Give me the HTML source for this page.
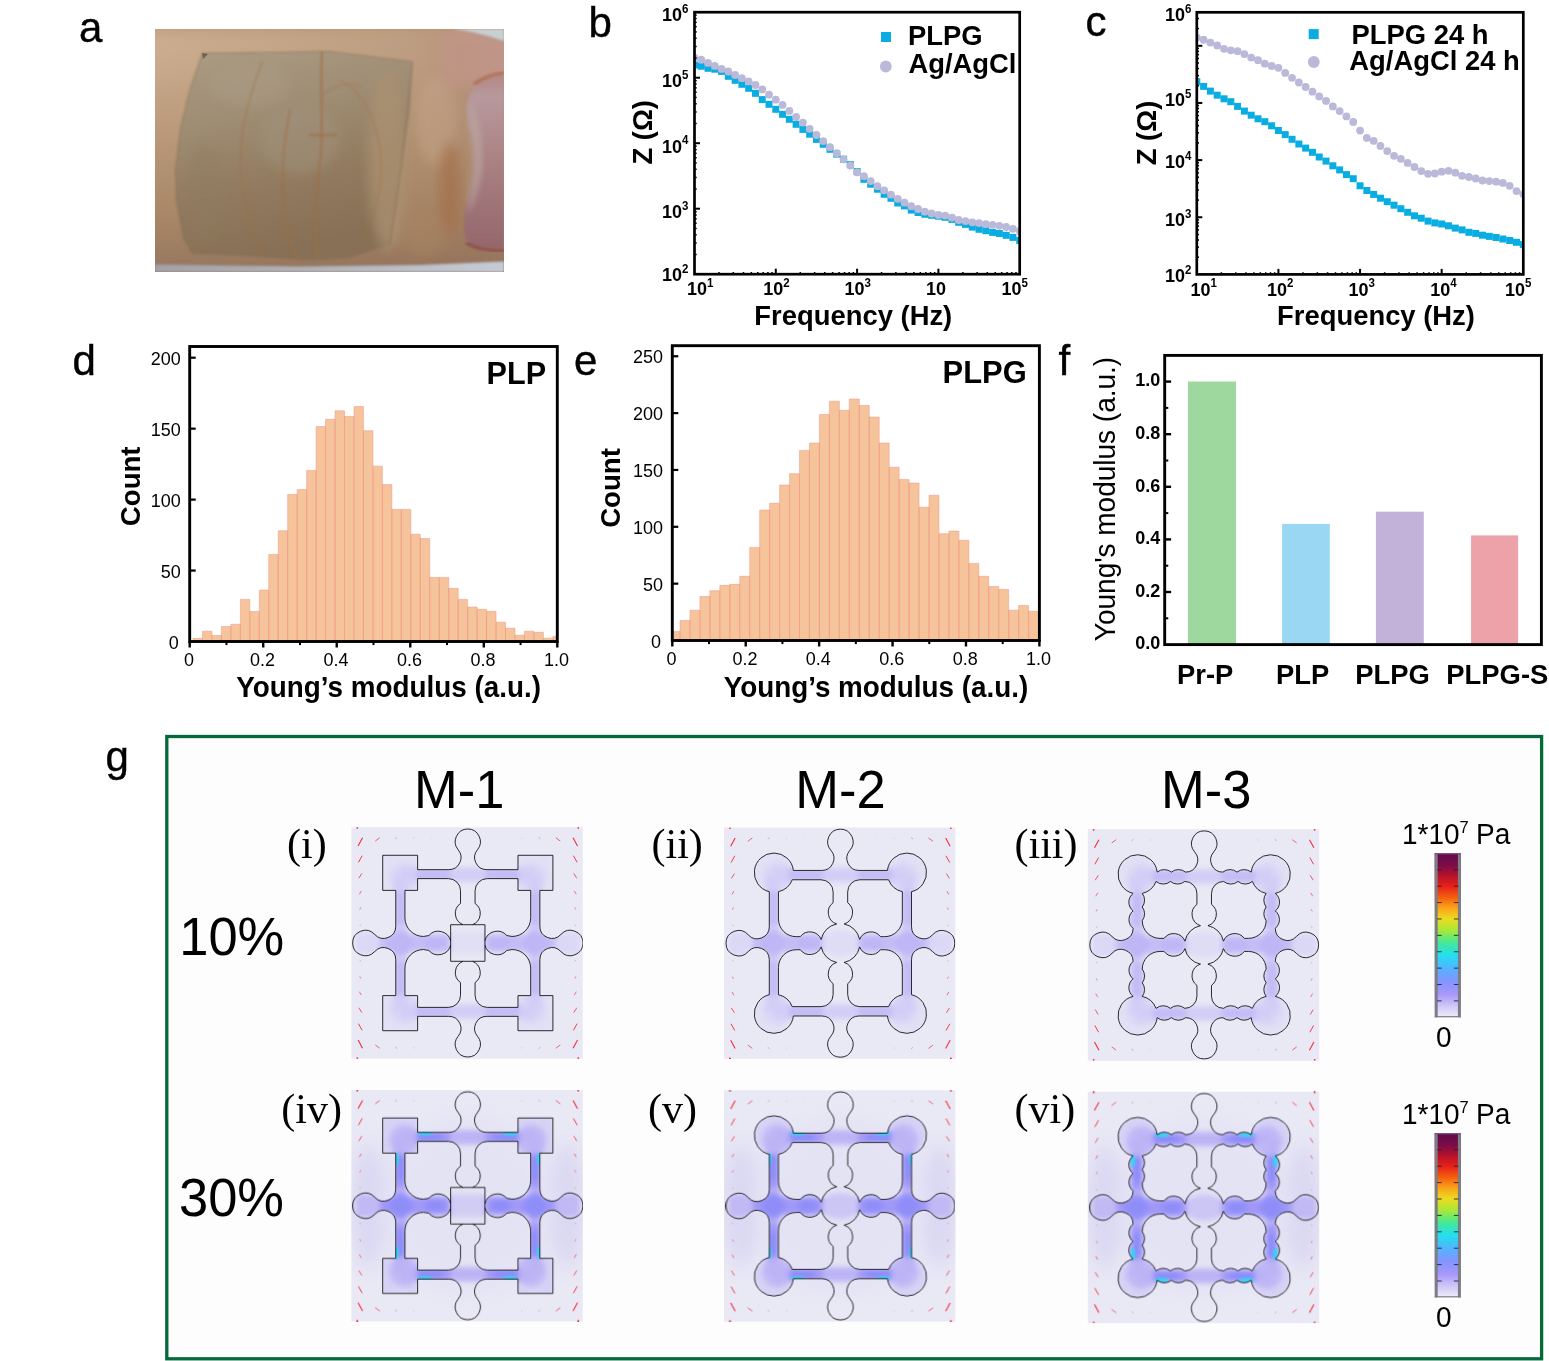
<!DOCTYPE html>
<html lang="en"><head><meta charset="utf-8"><title>Figure</title>
<style>
html,body{margin:0;padding:0;background:#fff;}
body{width:1549px;height:1361px;overflow:hidden;}
svg{display:block;font-family:"Liberation Sans",sans-serif;}
</style></head><body>
<svg width="1549" height="1361" viewBox="0 0 1549 1361">
<rect width="1549" height="1361" fill="#fff"/>
<text transform="translate(79.00,42.20)" font-size="42" stroke="#000" stroke-width="0.4">a</text>
<defs>
<clipPath id="pclip"><rect x="155" y="29" width="349" height="243"/></clipPath>
<linearGradient id="skin" x1="0" y1="0" x2="1" y2="0">
<stop offset="0" stop-color="#ccad90"/><stop offset="0.15" stop-color="#c9aa8c"/><stop offset="0.5" stop-color="#c2a285"/>
<stop offset="0.72" stop-color="#bd9d82"/><stop offset="0.84" stop-color="#b9967e"/><stop offset="1" stop-color="#bd9588"/>
</linearGradient>
<linearGradient id="skinv" x1="0" y1="0" x2="0" y2="1">
<stop offset="0" stop-color="#b8926f" stop-opacity="0.4"/><stop offset="0.06" stop-color="#c4a283" stop-opacity="0.05"/>
<stop offset="0.25" stop-color="#a88664" stop-opacity="0.25"/><stop offset="0.5" stop-color="#a48260" stop-opacity="0.55"/><stop offset="0.8" stop-color="#987656" stop-opacity="0.72"/><stop offset="1" stop-color="#8c6c56" stop-opacity="0.85"/>
</linearGradient>
<linearGradient id="patchg" x1="0" y1="0" x2="0.25" y2="1">
<stop offset="0" stop-color="#ab9c84"/><stop offset="0.35" stop-color="#9f8d74"/><stop offset="0.7" stop-color="#917a5e"/><stop offset="1" stop-color="#877055"/>
</linearGradient>
<linearGradient id="nailg" x1="0" y1="0" x2="0" y2="1">
<stop offset="0" stop-color="#b48886"/><stop offset="0.12" stop-color="#b8999d"/><stop offset="0.45" stop-color="#ab8486"/><stop offset="0.8" stop-color="#9c7074"/><stop offset="1" stop-color="#94686b"/>
</linearGradient>
<filter id="b1" x="-10%" y="-10%" width="120%" height="120%"><feGaussianBlur stdDeviation="1.2"/></filter>
<filter id="b3" x="-20%" y="-20%" width="140%" height="140%"><feGaussianBlur stdDeviation="3"/></filter>
<filter id="b6" x="-30%" y="-30%" width="160%" height="160%"><feGaussianBlur stdDeviation="6"/></filter>
</defs>
<g clip-path="url(#pclip)">
<rect x="155" y="29" width="349" height="243" fill="url(#skin)"/>
<rect x="155" y="29" width="349" height="243" fill="url(#skinv)"/>
<ellipse cx="436" cy="120" rx="20" ry="45" fill="#c8a88c" opacity="0.45" filter="url(#b6)"/>
<ellipse cx="450" cy="190" rx="10" ry="48" fill="#a4714b" opacity="0.75" filter="url(#b6)"/>
<ellipse cx="425" cy="235" rx="22" ry="22" fill="#ab8664" opacity="0.4" filter="url(#b6)"/>
<path d="M202.3 53.4 L270 52.5 L330 51.5 L412.6 61.8 L410 110 L401.8 163.3 L395 215 L389.9 244.6 L350 258 L312.2 260.5 L240.6 255.8 L192 254 L184 240 L176.5 200 L175.5 170 L180.8 127.5 L190 90 Z" fill="url(#patchg)" filter="url(#b1)"/>
<ellipse cx="300" cy="140" rx="40" ry="34" fill="#a39682" opacity="0.4" filter="url(#b6)"/>
<ellipse cx="205" cy="195" rx="20" ry="50" fill="#907b5f" opacity="0.35" filter="url(#b6)"/>
<ellipse cx="388" cy="160" rx="20" ry="90" fill="#ac9272" opacity="0.75" filter="url(#b6)"/>
<ellipse cx="250" cy="85" rx="40" ry="22" fill="#ae9f89" opacity="0.4" filter="url(#b6)"/>
<path d="M202.3 53.4 L270 52.5 L330 51.5 L412.6 61.8 M412.6 61.8 L401.8 163.3 L389.9 244.6 M202.3 53.4 L190 90 L180.8 127.5 L175.5 170 L176.5 200 L184 240" fill="none" stroke="#7a6850" stroke-width="1.1" opacity="0.5" filter="url(#b1)"/>
<path d="M202 53 l6 1 l-5 5z" fill="#5a4a3a" opacity="0.7"/>
<g fill="none" stroke="#a06e44" stroke-linecap="round" filter="url(#b1)"><path d="M322 52 C320 90 323 120 321 150 C319 185 312 215 318 258" stroke-width="2.2" opacity="0.7"/><path d="M310 135 L336 135" stroke-width="2.4" opacity="0.65"/><path d="M290 110 C282 150 280 190 286 225 C290 245 296 255 300 260" stroke-width="2.0" opacity="0.6"/><path d="M262 62 C248 100 236 140 242 185 C248 220 258 245 262 256" stroke-width="1.8" opacity="0.45"/><path d="M340 80 C370 95 385 140 380 185 C376 220 360 245 348 258" stroke-width="1.6" opacity="0.35"/><path d="M322 95 C335 85 350 82 362 86" stroke-width="1.4" opacity="0.35"/></g>
<path d="M440 29 L504 29 L504 80 C485 78 462 80 448 95 C440 70 440 45 440 29Z" fill="#c2958a" opacity="0.55" filter="url(#b6)"/>
<path d="M504 76 C488 77 476 82 470 95 C463 112 470 130 473 150 C476 172 470 190 465 210 C462 228 464 240 470 246 C480 250 495 250 504 250 Z" fill="url(#nailg)" filter="url(#b1)"/>
<path d="M470 100 C466 120 474 140 474 160 C474 180 468 200 468 215 C474 200 482 180 482 160 C482 135 478 115 470 100Z" fill="#bba89f" opacity="0.75" filter="url(#b3)"/>
<path d="M466 243 C478 250 494 251 504 251" fill="none" stroke="#8c4a40" stroke-width="3" opacity="0.8" filter="url(#b1)"/>
<path d="M474 84 C484 77 494 74 504 73" fill="none" stroke="#a8583f" stroke-width="3.5" opacity="0.55" filter="url(#b1)"/>
<path d="M452 29 L504 29 L504 41 C490 36 470 31 452 29Z" fill="#c6cfd2" filter="url(#b1)"/>
<linearGradient id="strip" x1="0" y1="0" x2="1" y2="0"><stop offset="0" stop-color="#a2a1a6"/><stop offset="0.5" stop-color="#b3b5bd"/><stop offset="1" stop-color="#c5cbd5"/></linearGradient>
<path d="M155 264.5 L300 266.5 L420 265 L504 261.5 L504 272 L155 272Z" fill="url(#strip)" filter="url(#b1)"/>
</g>
<text transform="translate(588.60,36.80)" font-size="42" stroke="#000" stroke-width="0.4">b</text>
<clipPath id="clb"><rect x="694.5" y="12.2" width="325.20000000000005" height="262.0"/></clipPath>
<g clip-path="url(#clb)"><g fill="#0aade1"><rect x="691.00" y="61.50" width="7" height="7"/><rect x="697.77" y="62.70" width="7" height="7"/><rect x="704.55" y="64.80" width="7" height="7"/><rect x="711.33" y="65.70" width="7" height="7"/><rect x="718.10" y="67.90" width="7" height="7"/><rect x="724.88" y="72.80" width="7" height="7"/><rect x="731.65" y="76.80" width="7" height="7"/><rect x="738.42" y="80.80" width="7" height="7"/><rect x="745.20" y="84.80" width="7" height="7"/><rect x="751.98" y="89.80" width="7" height="7"/><rect x="758.75" y="96.10" width="7" height="7"/><rect x="765.52" y="100.80" width="7" height="7"/><rect x="772.30" y="105.80" width="7" height="7"/><rect x="779.08" y="110.80" width="7" height="7"/><rect x="785.85" y="115.80" width="7" height="7"/><rect x="792.62" y="120.80" width="7" height="7"/><rect x="799.40" y="125.90" width="7" height="7"/><rect x="806.17" y="130.70" width="7" height="7"/><rect x="812.95" y="135.90" width="7" height="7"/><rect x="819.73" y="140.80" width="7" height="7"/><rect x="826.50" y="145.80" width="7" height="7"/><rect x="833.27" y="150.60" width="7" height="7"/><rect x="840.05" y="155.70" width="7" height="7"/><rect x="846.83" y="161.10" width="7" height="7"/><rect x="853.60" y="168.10" width="7" height="7"/><rect x="860.38" y="175.80" width="7" height="7"/><rect x="867.15" y="180.70" width="7" height="7"/><rect x="873.93" y="185.70" width="7" height="7"/><rect x="880.70" y="190.80" width="7" height="7"/><rect x="887.48" y="194.80" width="7" height="7"/><rect x="894.25" y="199.50" width="7" height="7"/><rect x="901.02" y="202.40" width="7" height="7"/><rect x="907.80" y="206.60" width="7" height="7"/><rect x="914.58" y="209.00" width="7" height="7"/><rect x="921.35" y="210.80" width="7" height="7"/><rect x="928.12" y="211.80" width="7" height="7"/><rect x="934.90" y="212.70" width="7" height="7"/><rect x="941.68" y="213.80" width="7" height="7"/><rect x="948.45" y="215.90" width="7" height="7"/><rect x="955.23" y="218.80" width="7" height="7"/><rect x="962.00" y="220.90" width="7" height="7"/><rect x="968.78" y="223.60" width="7" height="7"/><rect x="975.55" y="225.80" width="7" height="7"/><rect x="982.33" y="227.20" width="7" height="7"/><rect x="989.10" y="228.90" width="7" height="7"/><rect x="995.88" y="230.00" width="7" height="7"/><rect x="1002.65" y="231.80" width="7" height="7"/><rect x="1009.42" y="233.90" width="7" height="7"/><rect x="1016.20" y="236.90" width="7" height="7"/></g><g fill="#bab9da"><circle cx="694.50" cy="57.60" r="3.9"/><circle cx="701.27" cy="59.75" r="3.9"/><circle cx="708.05" cy="62.90" r="3.9"/><circle cx="714.83" cy="65.90" r="3.9"/><circle cx="721.60" cy="68.90" r="3.9"/><circle cx="728.38" cy="71.50" r="3.9"/><circle cx="735.15" cy="75.00" r="3.9"/><circle cx="741.92" cy="78.20" r="3.9"/><circle cx="748.70" cy="81.40" r="3.9"/><circle cx="755.48" cy="85.00" r="3.9"/><circle cx="762.25" cy="89.40" r="3.9"/><circle cx="769.02" cy="94.70" r="3.9"/><circle cx="775.80" cy="99.70" r="3.9"/><circle cx="782.58" cy="104.90" r="3.9"/><circle cx="789.35" cy="110.90" r="3.9"/><circle cx="796.12" cy="117.00" r="3.9"/><circle cx="802.90" cy="122.60" r="3.9"/><circle cx="809.67" cy="128.80" r="3.9"/><circle cx="816.45" cy="135.00" r="3.9"/><circle cx="823.23" cy="141.10" r="3.9"/><circle cx="830.00" cy="147.20" r="3.9"/><circle cx="836.77" cy="153.20" r="3.9"/><circle cx="843.55" cy="159.30" r="3.9"/><circle cx="850.33" cy="165.50" r="3.9"/><circle cx="857.10" cy="172.30" r="3.9"/><circle cx="863.88" cy="176.20" r="3.9"/><circle cx="870.65" cy="181.10" r="3.9"/><circle cx="877.43" cy="186.20" r="3.9"/><circle cx="884.20" cy="190.30" r="3.9"/><circle cx="890.98" cy="194.70" r="3.9"/><circle cx="897.75" cy="198.80" r="3.9"/><circle cx="904.52" cy="202.70" r="3.9"/><circle cx="911.30" cy="206.20" r="3.9"/><circle cx="918.08" cy="209.00" r="3.9"/><circle cx="924.85" cy="211.70" r="3.9"/><circle cx="931.62" cy="213.50" r="3.9"/><circle cx="938.40" cy="214.90" r="3.9"/><circle cx="945.18" cy="215.60" r="3.9"/><circle cx="951.95" cy="217.60" r="3.9"/><circle cx="958.73" cy="220.00" r="3.9"/><circle cx="965.50" cy="221.10" r="3.9"/><circle cx="972.28" cy="222.30" r="3.9"/><circle cx="979.05" cy="223.10" r="3.9"/><circle cx="985.83" cy="224.10" r="3.9"/><circle cx="992.60" cy="224.80" r="3.9"/><circle cx="999.38" cy="225.80" r="3.9"/><circle cx="1006.15" cy="227.00" r="3.9"/><circle cx="1012.92" cy="228.80" r="3.9"/><circle cx="1019.70" cy="231.10" r="3.9"/></g></g>
<line x1="718.97" y1="274.20" x2="718.97" y2="272.00" stroke="#000" stroke-width="1.5"/><line x1="733.29" y1="274.20" x2="733.29" y2="272.00" stroke="#000" stroke-width="1.5"/><line x1="743.45" y1="274.20" x2="743.45" y2="272.00" stroke="#000" stroke-width="1.5"/><line x1="751.33" y1="274.20" x2="751.33" y2="272.00" stroke="#000" stroke-width="1.5"/><line x1="757.76" y1="274.20" x2="757.76" y2="272.00" stroke="#000" stroke-width="1.5"/><line x1="763.21" y1="274.20" x2="763.21" y2="272.00" stroke="#000" stroke-width="1.5"/><line x1="767.92" y1="274.20" x2="767.92" y2="272.00" stroke="#000" stroke-width="1.5"/><line x1="772.08" y1="274.20" x2="772.08" y2="272.00" stroke="#000" stroke-width="1.5"/><line x1="775.80" y1="274.20" x2="775.80" y2="268.70" stroke="#000" stroke-width="2.0"/><line x1="800.27" y1="274.20" x2="800.27" y2="272.00" stroke="#000" stroke-width="1.5"/><line x1="814.59" y1="274.20" x2="814.59" y2="272.00" stroke="#000" stroke-width="1.5"/><line x1="824.75" y1="274.20" x2="824.75" y2="272.00" stroke="#000" stroke-width="1.5"/><line x1="832.63" y1="274.20" x2="832.63" y2="272.00" stroke="#000" stroke-width="1.5"/><line x1="839.06" y1="274.20" x2="839.06" y2="272.00" stroke="#000" stroke-width="1.5"/><line x1="844.51" y1="274.20" x2="844.51" y2="272.00" stroke="#000" stroke-width="1.5"/><line x1="849.22" y1="274.20" x2="849.22" y2="272.00" stroke="#000" stroke-width="1.5"/><line x1="853.38" y1="274.20" x2="853.38" y2="272.00" stroke="#000" stroke-width="1.5"/><line x1="857.10" y1="274.20" x2="857.10" y2="268.70" stroke="#000" stroke-width="2.0"/><line x1="881.57" y1="274.20" x2="881.57" y2="272.00" stroke="#000" stroke-width="1.5"/><line x1="895.89" y1="274.20" x2="895.89" y2="272.00" stroke="#000" stroke-width="1.5"/><line x1="906.05" y1="274.20" x2="906.05" y2="272.00" stroke="#000" stroke-width="1.5"/><line x1="913.93" y1="274.20" x2="913.93" y2="272.00" stroke="#000" stroke-width="1.5"/><line x1="920.36" y1="274.20" x2="920.36" y2="272.00" stroke="#000" stroke-width="1.5"/><line x1="925.81" y1="274.20" x2="925.81" y2="272.00" stroke="#000" stroke-width="1.5"/><line x1="930.52" y1="274.20" x2="930.52" y2="272.00" stroke="#000" stroke-width="1.5"/><line x1="934.68" y1="274.20" x2="934.68" y2="272.00" stroke="#000" stroke-width="1.5"/><line x1="938.40" y1="274.20" x2="938.40" y2="268.70" stroke="#000" stroke-width="2.0"/><line x1="962.87" y1="274.20" x2="962.87" y2="272.00" stroke="#000" stroke-width="1.5"/><line x1="977.19" y1="274.20" x2="977.19" y2="272.00" stroke="#000" stroke-width="1.5"/><line x1="987.35" y1="274.20" x2="987.35" y2="272.00" stroke="#000" stroke-width="1.5"/><line x1="995.23" y1="274.20" x2="995.23" y2="272.00" stroke="#000" stroke-width="1.5"/><line x1="1001.66" y1="274.20" x2="1001.66" y2="272.00" stroke="#000" stroke-width="1.5"/><line x1="1007.11" y1="274.20" x2="1007.11" y2="272.00" stroke="#000" stroke-width="1.5"/><line x1="1011.82" y1="274.20" x2="1011.82" y2="272.00" stroke="#000" stroke-width="1.5"/><line x1="1015.98" y1="274.20" x2="1015.98" y2="272.00" stroke="#000" stroke-width="1.5"/>
<line x1="694.50" y1="77.70" x2="700.00" y2="77.70" stroke="#000" stroke-width="2.0"/><line x1="694.50" y1="57.98" x2="696.70" y2="57.98" stroke="#000" stroke-width="1.5"/><line x1="694.50" y1="46.45" x2="696.70" y2="46.45" stroke="#000" stroke-width="1.5"/><line x1="694.50" y1="38.27" x2="696.70" y2="38.27" stroke="#000" stroke-width="1.5"/><line x1="694.50" y1="31.92" x2="696.70" y2="31.92" stroke="#000" stroke-width="1.5"/><line x1="694.50" y1="26.73" x2="696.70" y2="26.73" stroke="#000" stroke-width="1.5"/><line x1="694.50" y1="22.35" x2="696.70" y2="22.35" stroke="#000" stroke-width="1.5"/><line x1="694.50" y1="18.55" x2="696.70" y2="18.55" stroke="#000" stroke-width="1.5"/><line x1="694.50" y1="15.20" x2="696.70" y2="15.20" stroke="#000" stroke-width="1.5"/><line x1="694.50" y1="143.20" x2="700.00" y2="143.20" stroke="#000" stroke-width="2.0"/><line x1="694.50" y1="123.48" x2="696.70" y2="123.48" stroke="#000" stroke-width="1.5"/><line x1="694.50" y1="111.95" x2="696.70" y2="111.95" stroke="#000" stroke-width="1.5"/><line x1="694.50" y1="103.77" x2="696.70" y2="103.77" stroke="#000" stroke-width="1.5"/><line x1="694.50" y1="97.42" x2="696.70" y2="97.42" stroke="#000" stroke-width="1.5"/><line x1="694.50" y1="92.23" x2="696.70" y2="92.23" stroke="#000" stroke-width="1.5"/><line x1="694.50" y1="87.85" x2="696.70" y2="87.85" stroke="#000" stroke-width="1.5"/><line x1="694.50" y1="84.05" x2="696.70" y2="84.05" stroke="#000" stroke-width="1.5"/><line x1="694.50" y1="80.70" x2="696.70" y2="80.70" stroke="#000" stroke-width="1.5"/><line x1="694.50" y1="208.70" x2="700.00" y2="208.70" stroke="#000" stroke-width="2.0"/><line x1="694.50" y1="188.98" x2="696.70" y2="188.98" stroke="#000" stroke-width="1.5"/><line x1="694.50" y1="177.45" x2="696.70" y2="177.45" stroke="#000" stroke-width="1.5"/><line x1="694.50" y1="169.27" x2="696.70" y2="169.27" stroke="#000" stroke-width="1.5"/><line x1="694.50" y1="162.92" x2="696.70" y2="162.92" stroke="#000" stroke-width="1.5"/><line x1="694.50" y1="157.73" x2="696.70" y2="157.73" stroke="#000" stroke-width="1.5"/><line x1="694.50" y1="153.35" x2="696.70" y2="153.35" stroke="#000" stroke-width="1.5"/><line x1="694.50" y1="149.55" x2="696.70" y2="149.55" stroke="#000" stroke-width="1.5"/><line x1="694.50" y1="146.20" x2="696.70" y2="146.20" stroke="#000" stroke-width="1.5"/><line x1="694.50" y1="254.48" x2="696.70" y2="254.48" stroke="#000" stroke-width="1.5"/><line x1="694.50" y1="242.95" x2="696.70" y2="242.95" stroke="#000" stroke-width="1.5"/><line x1="694.50" y1="234.77" x2="696.70" y2="234.77" stroke="#000" stroke-width="1.5"/><line x1="694.50" y1="228.42" x2="696.70" y2="228.42" stroke="#000" stroke-width="1.5"/><line x1="694.50" y1="223.23" x2="696.70" y2="223.23" stroke="#000" stroke-width="1.5"/><line x1="694.50" y1="218.85" x2="696.70" y2="218.85" stroke="#000" stroke-width="1.5"/><line x1="694.50" y1="215.05" x2="696.70" y2="215.05" stroke="#000" stroke-width="1.5"/><line x1="694.50" y1="211.70" x2="696.70" y2="211.70" stroke="#000" stroke-width="1.5"/>
<rect x="694.50" y="12.20" width="325.20" height="262.00" fill="none" stroke="#000" stroke-width="2.7"/>
<text transform="translate(662.00,281.10) scale(1,1.0350)" font-size="18" font-weight="bold">10<tspan font-size="11.52" dy="-7.92">2</tspan></text>
<text transform="translate(662.00,218.00) scale(1,1.0350)" font-size="18" font-weight="bold">10<tspan font-size="11.52" dy="-7.92">3</tspan></text>
<text transform="translate(662.00,152.50) scale(1,1.0350)" font-size="18" font-weight="bold">10<tspan font-size="11.52" dy="-7.92">4</tspan></text>
<text transform="translate(662.00,87.00) scale(1,1.0350)" font-size="18" font-weight="bold">10<tspan font-size="11.52" dy="-7.92">5</tspan></text>
<text transform="translate(662.00,20.90) scale(1,1.0350)" font-size="18" font-weight="bold">10<tspan font-size="11.52" dy="-7.92">6</tspan></text>
<text transform="translate(687.00,295.00) scale(1,1.0350)" font-size="18" font-weight="bold">10<tspan font-size="11.52" dy="-7.92">1</tspan></text>
<text transform="translate(763.30,295.00) scale(1,1.0350)" font-size="18" font-weight="bold">10<tspan font-size="11.52" dy="-7.92">2</tspan></text>
<text transform="translate(844.60,295.00) scale(1,1.0350)" font-size="18" font-weight="bold">10<tspan font-size="11.52" dy="-7.92">3</tspan></text>
<text transform="translate(925.90,295.00) scale(1,1.0350)" font-size="18" font-weight="bold">10</text>
<text transform="translate(1001.50,295.00) scale(1,1.0350)" font-size="18" font-weight="bold">10<tspan font-size="11.52" dy="-7.92">5</tspan></text>
<text transform="translate(853.30,324.60) scale(1.0000,1.0350)" font-size="27.4" font-weight="bold" text-anchor="middle">Frequency (Hz)</text>
<text transform="translate(652.20,132.30) rotate(-90) scale(1.0000,1.0350)" font-size="27.4" font-weight="bold" text-anchor="middle">Z (Ω)</text>
<rect x="881" y="32" width="10" height="10" fill="#0aade1"/>
<circle cx="885.8" cy="66.5" r="5.9" fill="#bab9da"/>
<text transform="translate(908.00,44.80) scale(1.0000,1.0350)" font-size="27.4" font-weight="bold">PLPG</text>
<text transform="translate(908.40,73.00) scale(1.0000,1.0350)" font-size="27.4" font-weight="bold">Ag/AgCl</text>
<text transform="translate(1085.50,36.40)" font-size="42" stroke="#000" stroke-width="0.4">c</text>
<clipPath id="clc"><rect x="1196.8" y="12.3" width="326.5" height="262.09999999999997"/></clipPath>
<g clip-path="url(#clc)"><g fill="#0aade1"><rect x="1193.30" y="78.20" width="7" height="7"/><rect x="1200.10" y="82.90" width="7" height="7"/><rect x="1206.90" y="87.60" width="7" height="7"/><rect x="1213.71" y="91.70" width="7" height="7"/><rect x="1220.51" y="95.30" width="7" height="7"/><rect x="1227.31" y="98.20" width="7" height="7"/><rect x="1234.11" y="102.90" width="7" height="7"/><rect x="1240.91" y="107.60" width="7" height="7"/><rect x="1247.72" y="111.70" width="7" height="7"/><rect x="1254.52" y="115.30" width="7" height="7"/><rect x="1261.32" y="118.20" width="7" height="7"/><rect x="1268.12" y="122.30" width="7" height="7"/><rect x="1274.92" y="127.00" width="7" height="7"/><rect x="1281.73" y="131.10" width="7" height="7"/><rect x="1288.53" y="135.80" width="7" height="7"/><rect x="1295.33" y="140.50" width="7" height="7"/><rect x="1302.13" y="144.60" width="7" height="7"/><rect x="1308.94" y="148.80" width="7" height="7"/><rect x="1315.74" y="153.50" width="7" height="7"/><rect x="1322.54" y="157.60" width="7" height="7"/><rect x="1329.34" y="162.30" width="7" height="7"/><rect x="1336.14" y="166.40" width="7" height="7"/><rect x="1342.95" y="171.10" width="7" height="7"/><rect x="1349.75" y="175.20" width="7" height="7"/><rect x="1356.55" y="182.30" width="7" height="7"/><rect x="1363.35" y="187.00" width="7" height="7"/><rect x="1370.15" y="190.90" width="7" height="7"/><rect x="1376.96" y="194.70" width="7" height="7"/><rect x="1383.76" y="198.20" width="7" height="7"/><rect x="1390.56" y="201.70" width="7" height="7"/><rect x="1397.36" y="205.20" width="7" height="7"/><rect x="1404.16" y="208.80" width="7" height="7"/><rect x="1410.97" y="212.30" width="7" height="7"/><rect x="1417.77" y="214.70" width="7" height="7"/><rect x="1424.57" y="217.60" width="7" height="7"/><rect x="1431.37" y="219.40" width="7" height="7"/><rect x="1438.17" y="220.50" width="7" height="7"/><rect x="1444.98" y="222.30" width="7" height="7"/><rect x="1451.78" y="224.60" width="7" height="7"/><rect x="1458.58" y="226.40" width="7" height="7"/><rect x="1465.38" y="228.80" width="7" height="7"/><rect x="1472.19" y="229.90" width="7" height="7"/><rect x="1478.99" y="231.70" width="7" height="7"/><rect x="1485.79" y="232.90" width="7" height="7"/><rect x="1492.59" y="234.00" width="7" height="7"/><rect x="1499.39" y="235.50" width="7" height="7"/><rect x="1506.20" y="237.00" width="7" height="7"/><rect x="1513.00" y="238.80" width="7" height="7"/><rect x="1519.80" y="241.10" width="7" height="7"/></g><g fill="#bab9da"><circle cx="1196.80" cy="37.60" r="3.9"/><circle cx="1203.60" cy="39.75" r="3.9"/><circle cx="1210.40" cy="42.60" r="3.9"/><circle cx="1217.21" cy="45.50" r="3.9"/><circle cx="1224.01" cy="48.80" r="3.9"/><circle cx="1230.81" cy="50.30" r="3.9"/><circle cx="1237.61" cy="51.20" r="3.9"/><circle cx="1244.41" cy="54.10" r="3.9"/><circle cx="1251.22" cy="57.60" r="3.9"/><circle cx="1258.02" cy="60.20" r="3.9"/><circle cx="1264.82" cy="63.70" r="3.9"/><circle cx="1271.62" cy="65.90" r="3.9"/><circle cx="1278.42" cy="67.80" r="3.9"/><circle cx="1285.23" cy="72.90" r="3.9"/><circle cx="1292.03" cy="77.80" r="3.9"/><circle cx="1298.83" cy="82.50" r="3.9"/><circle cx="1305.63" cy="87.00" r="3.9"/><circle cx="1312.44" cy="91.70" r="3.9"/><circle cx="1319.24" cy="96.40" r="3.9"/><circle cx="1326.04" cy="100.90" r="3.9"/><circle cx="1332.84" cy="106.40" r="3.9"/><circle cx="1339.64" cy="111.10" r="3.9"/><circle cx="1346.45" cy="116.40" r="3.9"/><circle cx="1353.25" cy="122.00" r="3.9"/><circle cx="1360.05" cy="130.60" r="3.9"/><circle cx="1366.85" cy="137.90" r="3.9"/><circle cx="1373.65" cy="140.80" r="3.9"/><circle cx="1380.46" cy="145.90" r="3.9"/><circle cx="1387.26" cy="151.10" r="3.9"/><circle cx="1394.06" cy="155.80" r="3.9"/><circle cx="1400.86" cy="158.80" r="3.9"/><circle cx="1407.66" cy="162.90" r="3.9"/><circle cx="1414.47" cy="167.00" r="3.9"/><circle cx="1421.27" cy="171.10" r="3.9"/><circle cx="1428.07" cy="173.80" r="3.9"/><circle cx="1434.87" cy="173.50" r="3.9"/><circle cx="1441.67" cy="171.70" r="3.9"/><circle cx="1448.48" cy="170.80" r="3.9"/><circle cx="1455.28" cy="172.70" r="3.9"/><circle cx="1462.08" cy="175.80" r="3.9"/><circle cx="1468.88" cy="177.00" r="3.9"/><circle cx="1475.69" cy="178.50" r="3.9"/><circle cx="1482.49" cy="180.50" r="3.9"/><circle cx="1489.29" cy="181.10" r="3.9"/><circle cx="1496.09" cy="181.70" r="3.9"/><circle cx="1502.89" cy="182.90" r="3.9"/><circle cx="1509.70" cy="185.80" r="3.9"/><circle cx="1516.50" cy="191.10" r="3.9"/><circle cx="1523.30" cy="194.10" r="3.9"/></g></g>
<line x1="1221.37" y1="274.40" x2="1221.37" y2="272.20" stroke="#000" stroke-width="1.5"/><line x1="1235.75" y1="274.40" x2="1235.75" y2="272.20" stroke="#000" stroke-width="1.5"/><line x1="1245.94" y1="274.40" x2="1245.94" y2="272.20" stroke="#000" stroke-width="1.5"/><line x1="1253.85" y1="274.40" x2="1253.85" y2="272.20" stroke="#000" stroke-width="1.5"/><line x1="1260.32" y1="274.40" x2="1260.32" y2="272.20" stroke="#000" stroke-width="1.5"/><line x1="1265.78" y1="274.40" x2="1265.78" y2="272.20" stroke="#000" stroke-width="1.5"/><line x1="1270.51" y1="274.40" x2="1270.51" y2="272.20" stroke="#000" stroke-width="1.5"/><line x1="1274.69" y1="274.40" x2="1274.69" y2="272.20" stroke="#000" stroke-width="1.5"/><line x1="1278.42" y1="274.40" x2="1278.42" y2="268.90" stroke="#000" stroke-width="2.0"/><line x1="1303.00" y1="274.40" x2="1303.00" y2="272.20" stroke="#000" stroke-width="1.5"/><line x1="1317.37" y1="274.40" x2="1317.37" y2="272.20" stroke="#000" stroke-width="1.5"/><line x1="1327.57" y1="274.40" x2="1327.57" y2="272.20" stroke="#000" stroke-width="1.5"/><line x1="1335.48" y1="274.40" x2="1335.48" y2="272.20" stroke="#000" stroke-width="1.5"/><line x1="1341.94" y1="274.40" x2="1341.94" y2="272.20" stroke="#000" stroke-width="1.5"/><line x1="1347.41" y1="274.40" x2="1347.41" y2="272.20" stroke="#000" stroke-width="1.5"/><line x1="1352.14" y1="274.40" x2="1352.14" y2="272.20" stroke="#000" stroke-width="1.5"/><line x1="1356.32" y1="274.40" x2="1356.32" y2="272.20" stroke="#000" stroke-width="1.5"/><line x1="1360.05" y1="274.40" x2="1360.05" y2="268.90" stroke="#000" stroke-width="2.0"/><line x1="1384.62" y1="274.40" x2="1384.62" y2="272.20" stroke="#000" stroke-width="1.5"/><line x1="1399.00" y1="274.40" x2="1399.00" y2="272.20" stroke="#000" stroke-width="1.5"/><line x1="1409.19" y1="274.40" x2="1409.19" y2="272.20" stroke="#000" stroke-width="1.5"/><line x1="1417.10" y1="274.40" x2="1417.10" y2="272.20" stroke="#000" stroke-width="1.5"/><line x1="1423.57" y1="274.40" x2="1423.57" y2="272.20" stroke="#000" stroke-width="1.5"/><line x1="1429.03" y1="274.40" x2="1429.03" y2="272.20" stroke="#000" stroke-width="1.5"/><line x1="1433.76" y1="274.40" x2="1433.76" y2="272.20" stroke="#000" stroke-width="1.5"/><line x1="1437.94" y1="274.40" x2="1437.94" y2="272.20" stroke="#000" stroke-width="1.5"/><line x1="1441.67" y1="274.40" x2="1441.67" y2="268.90" stroke="#000" stroke-width="2.0"/><line x1="1466.25" y1="274.40" x2="1466.25" y2="272.20" stroke="#000" stroke-width="1.5"/><line x1="1480.62" y1="274.40" x2="1480.62" y2="272.20" stroke="#000" stroke-width="1.5"/><line x1="1490.82" y1="274.40" x2="1490.82" y2="272.20" stroke="#000" stroke-width="1.5"/><line x1="1498.73" y1="274.40" x2="1498.73" y2="272.20" stroke="#000" stroke-width="1.5"/><line x1="1505.19" y1="274.40" x2="1505.19" y2="272.20" stroke="#000" stroke-width="1.5"/><line x1="1510.66" y1="274.40" x2="1510.66" y2="272.20" stroke="#000" stroke-width="1.5"/><line x1="1515.39" y1="274.40" x2="1515.39" y2="272.20" stroke="#000" stroke-width="1.5"/><line x1="1519.57" y1="274.40" x2="1519.57" y2="272.20" stroke="#000" stroke-width="1.5"/>
<line x1="1196.80" y1="45.80" x2="1202.30" y2="45.80" stroke="#000" stroke-width="2.0"/><line x1="1196.80" y1="28.60" x2="1199.00" y2="28.60" stroke="#000" stroke-width="1.5"/><line x1="1196.80" y1="18.53" x2="1199.00" y2="18.53" stroke="#000" stroke-width="1.5"/><line x1="1196.80" y1="102.95" x2="1202.30" y2="102.95" stroke="#000" stroke-width="2.0"/><line x1="1196.80" y1="85.75" x2="1199.00" y2="85.75" stroke="#000" stroke-width="1.5"/><line x1="1196.80" y1="75.68" x2="1199.00" y2="75.68" stroke="#000" stroke-width="1.5"/><line x1="1196.80" y1="68.54" x2="1199.00" y2="68.54" stroke="#000" stroke-width="1.5"/><line x1="1196.80" y1="63.00" x2="1199.00" y2="63.00" stroke="#000" stroke-width="1.5"/><line x1="1196.80" y1="58.48" x2="1199.00" y2="58.48" stroke="#000" stroke-width="1.5"/><line x1="1196.80" y1="54.65" x2="1199.00" y2="54.65" stroke="#000" stroke-width="1.5"/><line x1="1196.80" y1="51.34" x2="1199.00" y2="51.34" stroke="#000" stroke-width="1.5"/><line x1="1196.80" y1="48.42" x2="1199.00" y2="48.42" stroke="#000" stroke-width="1.5"/><line x1="1196.80" y1="160.10" x2="1202.30" y2="160.10" stroke="#000" stroke-width="2.0"/><line x1="1196.80" y1="142.90" x2="1199.00" y2="142.90" stroke="#000" stroke-width="1.5"/><line x1="1196.80" y1="132.83" x2="1199.00" y2="132.83" stroke="#000" stroke-width="1.5"/><line x1="1196.80" y1="125.69" x2="1199.00" y2="125.69" stroke="#000" stroke-width="1.5"/><line x1="1196.80" y1="120.15" x2="1199.00" y2="120.15" stroke="#000" stroke-width="1.5"/><line x1="1196.80" y1="115.63" x2="1199.00" y2="115.63" stroke="#000" stroke-width="1.5"/><line x1="1196.80" y1="111.80" x2="1199.00" y2="111.80" stroke="#000" stroke-width="1.5"/><line x1="1196.80" y1="108.49" x2="1199.00" y2="108.49" stroke="#000" stroke-width="1.5"/><line x1="1196.80" y1="105.57" x2="1199.00" y2="105.57" stroke="#000" stroke-width="1.5"/><line x1="1196.80" y1="217.25" x2="1202.30" y2="217.25" stroke="#000" stroke-width="2.0"/><line x1="1196.80" y1="200.05" x2="1199.00" y2="200.05" stroke="#000" stroke-width="1.5"/><line x1="1196.80" y1="189.98" x2="1199.00" y2="189.98" stroke="#000" stroke-width="1.5"/><line x1="1196.80" y1="182.84" x2="1199.00" y2="182.84" stroke="#000" stroke-width="1.5"/><line x1="1196.80" y1="177.30" x2="1199.00" y2="177.30" stroke="#000" stroke-width="1.5"/><line x1="1196.80" y1="172.78" x2="1199.00" y2="172.78" stroke="#000" stroke-width="1.5"/><line x1="1196.80" y1="168.95" x2="1199.00" y2="168.95" stroke="#000" stroke-width="1.5"/><line x1="1196.80" y1="165.64" x2="1199.00" y2="165.64" stroke="#000" stroke-width="1.5"/><line x1="1196.80" y1="162.72" x2="1199.00" y2="162.72" stroke="#000" stroke-width="1.5"/><line x1="1196.80" y1="257.20" x2="1199.00" y2="257.20" stroke="#000" stroke-width="1.5"/><line x1="1196.80" y1="247.13" x2="1199.00" y2="247.13" stroke="#000" stroke-width="1.5"/><line x1="1196.80" y1="239.99" x2="1199.00" y2="239.99" stroke="#000" stroke-width="1.5"/><line x1="1196.80" y1="234.45" x2="1199.00" y2="234.45" stroke="#000" stroke-width="1.5"/><line x1="1196.80" y1="229.93" x2="1199.00" y2="229.93" stroke="#000" stroke-width="1.5"/><line x1="1196.80" y1="226.10" x2="1199.00" y2="226.10" stroke="#000" stroke-width="1.5"/><line x1="1196.80" y1="222.79" x2="1199.00" y2="222.79" stroke="#000" stroke-width="1.5"/><line x1="1196.80" y1="219.87" x2="1199.00" y2="219.87" stroke="#000" stroke-width="1.5"/>
<rect x="1196.80" y="12.30" width="326.50" height="262.10" fill="none" stroke="#000" stroke-width="2.7"/>
<text transform="translate(1165.00,21.00) scale(1,1.0350)" font-size="18" font-weight="bold">10<tspan font-size="11.52" dy="-7.92">6</tspan></text>
<text transform="translate(1165.00,106.30) scale(1,1.0350)" font-size="18" font-weight="bold">10<tspan font-size="11.52" dy="-7.92">5</tspan></text>
<text transform="translate(1165.00,167.90) scale(1,1.0350)" font-size="18" font-weight="bold">10<tspan font-size="11.52" dy="-7.92">4</tspan></text>
<text transform="translate(1165.00,226.00) scale(1,1.0350)" font-size="18" font-weight="bold">10<tspan font-size="11.52" dy="-7.92">3</tspan></text>
<text transform="translate(1165.00,281.80) scale(1,1.0350)" font-size="18" font-weight="bold">10<tspan font-size="11.52" dy="-7.92">2</tspan></text>
<text transform="translate(1190.50,295.60) scale(1,1.0350)" font-size="18" font-weight="bold">10<tspan font-size="11.52" dy="-7.92">1</tspan></text>
<text transform="translate(1266.92,295.60) scale(1,1.0350)" font-size="18" font-weight="bold">10<tspan font-size="11.52" dy="-7.92">2</tspan></text>
<text transform="translate(1348.55,295.60) scale(1,1.0350)" font-size="18" font-weight="bold">10<tspan font-size="11.52" dy="-7.92">3</tspan></text>
<text transform="translate(1430.17,295.60) scale(1,1.0350)" font-size="18" font-weight="bold">10<tspan font-size="11.52" dy="-7.92">4</tspan></text>
<text transform="translate(1505.00,295.60) scale(1,1.0350)" font-size="18" font-weight="bold">10<tspan font-size="11.52" dy="-7.92">5</tspan></text>
<text transform="translate(1376.00,324.80) scale(1.0000,1.0350)" font-size="27.4" font-weight="bold" text-anchor="middle">Frequency (Hz)</text>
<text transform="translate(1155.60,133.00) rotate(-90) scale(1.0000,1.0350)" font-size="27.4" font-weight="bold" text-anchor="middle">Z (Ω)</text>
<rect x="1308.7" y="29.1" width="10" height="10" fill="#0aade1"/>
<circle cx="1313.8" cy="62" r="5.9" fill="#bab9da"/>
<text transform="translate(1351.60,44.30) scale(1.0000,1.0350)" font-size="27.4" font-weight="bold">PLPG 24 h</text>
<text transform="translate(1349.30,70.20) scale(1.0000,1.0350)" font-size="27.4" font-weight="bold">Ag/AgCl 24 h</text>
<text transform="translate(72.50,375.00)" font-size="42" stroke="#000" stroke-width="0.4">d</text>
<clipPath id="cld"><rect x="189.7" y="0" width="366.3999999999999" height="1361"/></clipPath><g clip-path="url(#cld)"><path d="M193.00 640.70V638.43H202.47V640.70ZM202.47 640.70V631.19H211.94V640.70ZM211.94 640.70V635.45H221.41V640.70ZM221.41 640.70V626.51H230.88V640.70ZM230.88 640.70V624.24H240.35V640.70ZM240.35 640.70V599.41H249.82V640.70ZM249.82 640.70V611.47H259.29V640.70ZM259.29 640.70V590.04H268.76V640.70ZM268.76 640.70V554.42H278.23V640.70ZM278.23 640.70V530.73H287.70V640.70ZM287.70 640.70V494.54H297.17V640.70ZM297.17 640.70V489.58H306.64V640.70ZM306.64 640.70V470.42H316.11V640.70ZM316.11 640.70V426.43H325.58V640.70ZM325.58 640.70V419.34H335.05V640.70ZM335.05 640.70V410.82H344.52V640.70ZM344.52 640.70V416.50H353.99V640.70ZM353.99 640.70V406.57H363.46V640.70ZM363.46 640.70V430.69H372.93V640.70ZM372.93 640.70V466.16H382.40V640.70ZM382.40 640.70V484.61H391.87V640.70ZM391.87 640.70V509.44H401.34V640.70ZM401.34 640.70V509.44H410.81V640.70ZM410.81 640.70V534.28H420.28V640.70ZM420.28 640.70V538.53H429.75V640.70ZM429.75 640.70V577.41H439.22V640.70ZM439.22 640.70V577.41H448.69V640.70ZM448.69 640.70V588.34H458.16V640.70ZM458.16 640.70V599.41H467.63V640.70ZM467.63 640.70V607.07H477.10V640.70ZM477.10 640.70V609.34H486.57V640.70ZM486.57 640.70V611.33H496.04V640.70ZM496.04 640.70V622.25H505.51V640.70ZM505.51 640.70V628.21H514.98V640.70ZM514.98 640.70V635.31H524.45V640.70ZM524.45 640.70V631.19H533.92V640.70ZM533.92 640.70V632.33H543.39V640.70ZM543.39 640.70V638.15H552.86V640.70ZM552.86 640.70V636.44H562.33V640.70Z" fill="#f6c49a"/><path d="M193.00 640.70V638.43H202.47V640.70M202.47 640.70V631.19H211.94V640.70M211.94 640.70V635.45H221.41V640.70M221.41 640.70V626.51H230.88V640.70M230.88 640.70V624.24H240.35V640.70M240.35 640.70V599.41H249.82V640.70M249.82 640.70V611.47H259.29V640.70M259.29 640.70V590.04H268.76V640.70M268.76 640.70V554.42H278.23V640.70M278.23 640.70V530.73H287.70V640.70M287.70 640.70V494.54H297.17V640.70M297.17 640.70V489.58H306.64V640.70M306.64 640.70V470.42H316.11V640.70M316.11 640.70V426.43H325.58V640.70M325.58 640.70V419.34H335.05V640.70M335.05 640.70V410.82H344.52V640.70M344.52 640.70V416.50H353.99V640.70M353.99 640.70V406.57H363.46V640.70M363.46 640.70V430.69H372.93V640.70M372.93 640.70V466.16H382.40V640.70M382.40 640.70V484.61H391.87V640.70M391.87 640.70V509.44H401.34V640.70M401.34 640.70V509.44H410.81V640.70M410.81 640.70V534.28H420.28V640.70M420.28 640.70V538.53H429.75V640.70M429.75 640.70V577.41H439.22V640.70M439.22 640.70V577.41H448.69V640.70M448.69 640.70V588.34H458.16V640.70M458.16 640.70V599.41H467.63V640.70M467.63 640.70V607.07H477.10V640.70M477.10 640.70V609.34H486.57V640.70M486.57 640.70V611.33H496.04V640.70M496.04 640.70V622.25H505.51V640.70M505.51 640.70V628.21H514.98V640.70M514.98 640.70V635.31H524.45V640.70M524.45 640.70V631.19H533.92V640.70M533.92 640.70V632.33H543.39V640.70M543.39 640.70V638.15H552.86V640.70M552.86 640.70V636.44H562.33V640.70" fill="none" stroke="#f3968a" stroke-width="0.7" stroke-opacity="0.75"/></g>
<line x1="189.70" y1="641.50" x2="189.70" y2="647.50" stroke="#000" stroke-width="2.4"/><line x1="226.46" y1="641.50" x2="226.46" y2="645.10" stroke="#000" stroke-width="2.0"/><line x1="263.22" y1="641.50" x2="263.22" y2="647.50" stroke="#000" stroke-width="2.4"/><line x1="299.98" y1="641.50" x2="299.98" y2="645.10" stroke="#000" stroke-width="2.0"/><line x1="336.74" y1="641.50" x2="336.74" y2="647.50" stroke="#000" stroke-width="2.4"/><line x1="373.50" y1="641.50" x2="373.50" y2="645.10" stroke="#000" stroke-width="2.0"/><line x1="410.26" y1="641.50" x2="410.26" y2="647.50" stroke="#000" stroke-width="2.4"/><line x1="447.02" y1="641.50" x2="447.02" y2="645.10" stroke="#000" stroke-width="2.0"/><line x1="483.78" y1="641.50" x2="483.78" y2="647.50" stroke="#000" stroke-width="2.4"/><line x1="520.54" y1="641.50" x2="520.54" y2="645.10" stroke="#000" stroke-width="2.0"/><line x1="557.30" y1="641.50" x2="557.30" y2="647.50" stroke="#000" stroke-width="2.4"/><text transform="translate(178.80,648.50) scale(1.0000,1.0350)" font-size="18" text-anchor="end">0</text><line x1="189.70" y1="570.55" x2="195.70" y2="570.55" stroke="#000" stroke-width="2.2"/><text transform="translate(180.80,577.55) scale(1.0000,1.0350)" font-size="18" text-anchor="end">50</text><line x1="189.70" y1="499.60" x2="195.70" y2="499.60" stroke="#000" stroke-width="2.2"/><text transform="translate(180.80,506.60) scale(1.0000,1.0350)" font-size="18" text-anchor="end">100</text><line x1="189.70" y1="428.65" x2="195.70" y2="428.65" stroke="#000" stroke-width="2.2"/><text transform="translate(180.80,435.65) scale(1.0000,1.0350)" font-size="18" text-anchor="end">150</text><line x1="189.70" y1="357.70" x2="195.70" y2="357.70" stroke="#000" stroke-width="2.2"/><text transform="translate(180.80,364.70) scale(1.0000,1.0350)" font-size="18" text-anchor="end">200</text><rect x="189.70" y="346.50" width="367.60" height="295.00" fill="none" stroke="#000" stroke-width="2.9"/><text transform="translate(188.90,665.70) scale(1.0000,1.0350)" font-size="18" text-anchor="middle">0</text><text transform="translate(262.42,665.70) scale(1.0000,1.0350)" font-size="18" text-anchor="middle">0.2</text><text transform="translate(335.94,665.70) scale(1.0000,1.0350)" font-size="18" text-anchor="middle">0.4</text><text transform="translate(409.46,665.70) scale(1.0000,1.0350)" font-size="18" text-anchor="middle">0.6</text><text transform="translate(482.98,665.70) scale(1.0000,1.0350)" font-size="18" text-anchor="middle">0.8</text><text transform="translate(556.50,665.70) scale(1.0000,1.0350)" font-size="18" text-anchor="middle">1.0</text>
<text transform="translate(388.60,696.80) scale(1.0000,1.0350)" font-size="27.85" font-weight="bold" text-anchor="middle">Young’s modulus (a.u.)</text>
<text transform="translate(139.60,486.30) rotate(-90) scale(1.0000,1.0350)" font-size="27.6" font-weight="bold" text-anchor="middle">Count</text>
<text transform="translate(486.60,384.00) scale(1.0000,1.0350)" font-size="30.6" font-weight="bold">PLP</text>
<text transform="translate(574.00,375.00)" font-size="42" stroke="#000" stroke-width="0.4">e</text>
<clipPath id="cle"><rect x="672.3" y="0" width="365.9000000000001" height="1361"/></clipPath><g clip-path="url(#cle)"><path d="M670.04 639.70V631.40H680.00V639.70ZM680.00 639.70V620.48H689.96V639.70ZM689.96 639.70V610.25H699.92V639.70ZM699.92 639.70V596.49H709.88V639.70ZM709.88 639.70V590.70H719.84V639.70ZM719.84 639.70V585.35H729.80V639.70ZM729.80 639.70V584.33H739.76V639.70ZM739.76 639.70V576.26H749.72V639.70ZM749.72 639.70V547.38H759.68V639.70ZM759.68 639.70V510.08H769.64V639.70ZM769.64 639.70V503.26H779.60V639.70ZM779.60 639.70V485.07H789.56V639.70ZM789.56 639.70V473.70H799.52V639.70ZM799.52 639.70V450.39H809.48V639.70ZM809.48 639.70V443.00H819.44V639.70ZM819.44 639.70V414.57H829.40V639.70ZM829.40 639.70V401.27H839.36V639.70ZM839.36 639.70V410.37H849.32V639.70ZM849.32 639.70V399.00H859.28V639.70ZM859.28 639.70V405.48H869.24V639.70ZM869.24 639.70V417.08H879.20V639.70ZM879.20 639.70V443.00H889.16V639.70ZM889.16 639.70V467.22H899.12V639.70ZM899.12 639.70V479.38H909.08V639.70ZM909.08 639.70V483.02H919.04V639.70ZM919.04 639.70V507.24H929.00V639.70ZM929.00 639.70V495.30H938.96V639.70ZM938.96 639.70V533.73H948.92V639.70ZM948.92 639.70V531.12H958.88V639.70ZM958.88 639.70V540.21H968.84V639.70ZM968.84 639.70V563.41H978.80V639.70ZM978.80 639.70V576.26H988.76V639.70ZM988.76 639.70V586.60H998.72V639.70ZM998.72 639.70V589.44H1008.68V639.70ZM1008.68 639.70V610.25H1018.64V639.70ZM1018.64 639.70V605.59H1028.60V639.70ZM1028.60 639.70V611.28H1038.56V639.70Z" fill="#f6c49a"/><path d="M670.04 639.70V631.40H680.00V639.70M680.00 639.70V620.48H689.96V639.70M689.96 639.70V610.25H699.92V639.70M699.92 639.70V596.49H709.88V639.70M709.88 639.70V590.70H719.84V639.70M719.84 639.70V585.35H729.80V639.70M729.80 639.70V584.33H739.76V639.70M739.76 639.70V576.26H749.72V639.70M749.72 639.70V547.38H759.68V639.70M759.68 639.70V510.08H769.64V639.70M769.64 639.70V503.26H779.60V639.70M779.60 639.70V485.07H789.56V639.70M789.56 639.70V473.70H799.52V639.70M799.52 639.70V450.39H809.48V639.70M809.48 639.70V443.00H819.44V639.70M819.44 639.70V414.57H829.40V639.70M829.40 639.70V401.27H839.36V639.70M839.36 639.70V410.37H849.32V639.70M849.32 639.70V399.00H859.28V639.70M859.28 639.70V405.48H869.24V639.70M869.24 639.70V417.08H879.20V639.70M879.20 639.70V443.00H889.16V639.70M889.16 639.70V467.22H899.12V639.70M899.12 639.70V479.38H909.08V639.70M909.08 639.70V483.02H919.04V639.70M919.04 639.70V507.24H929.00V639.70M929.00 639.70V495.30H938.96V639.70M938.96 639.70V533.73H948.92V639.70M948.92 639.70V531.12H958.88V639.70M958.88 639.70V540.21H968.84V639.70M968.84 639.70V563.41H978.80V639.70M978.80 639.70V576.26H988.76V639.70M988.76 639.70V586.60H998.72V639.70M998.72 639.70V589.44H1008.68V639.70M1008.68 639.70V610.25H1018.64V639.70M1018.64 639.70V605.59H1028.60V639.70M1028.60 639.70V611.28H1038.56V639.70" fill="none" stroke="#f3968a" stroke-width="0.7" stroke-opacity="0.75"/></g>
<line x1="672.30" y1="640.50" x2="672.30" y2="646.50" stroke="#000" stroke-width="2.4"/><line x1="709.01" y1="640.50" x2="709.01" y2="644.10" stroke="#000" stroke-width="2.0"/><line x1="745.72" y1="640.50" x2="745.72" y2="646.50" stroke="#000" stroke-width="2.4"/><line x1="782.43" y1="640.50" x2="782.43" y2="644.10" stroke="#000" stroke-width="2.0"/><line x1="819.14" y1="640.50" x2="819.14" y2="646.50" stroke="#000" stroke-width="2.4"/><line x1="855.85" y1="640.50" x2="855.85" y2="644.10" stroke="#000" stroke-width="2.0"/><line x1="892.56" y1="640.50" x2="892.56" y2="646.50" stroke="#000" stroke-width="2.4"/><line x1="929.27" y1="640.50" x2="929.27" y2="644.10" stroke="#000" stroke-width="2.0"/><line x1="965.98" y1="640.50" x2="965.98" y2="646.50" stroke="#000" stroke-width="2.4"/><line x1="1002.69" y1="640.50" x2="1002.69" y2="644.10" stroke="#000" stroke-width="2.0"/><line x1="1039.40" y1="640.50" x2="1039.40" y2="646.50" stroke="#000" stroke-width="2.4"/><text transform="translate(661.00,647.50) scale(1.0000,1.0350)" font-size="18" text-anchor="end">0</text><line x1="672.30" y1="583.65" x2="678.30" y2="583.65" stroke="#000" stroke-width="2.2"/><text transform="translate(663.00,590.65) scale(1.0000,1.0350)" font-size="18" text-anchor="end">50</text><line x1="672.30" y1="526.80" x2="678.30" y2="526.80" stroke="#000" stroke-width="2.2"/><text transform="translate(663.00,533.80) scale(1.0000,1.0350)" font-size="18" text-anchor="end">100</text><line x1="672.30" y1="469.95" x2="678.30" y2="469.95" stroke="#000" stroke-width="2.2"/><text transform="translate(663.00,476.95) scale(1.0000,1.0350)" font-size="18" text-anchor="end">150</text><line x1="672.30" y1="413.10" x2="678.30" y2="413.10" stroke="#000" stroke-width="2.2"/><text transform="translate(663.00,420.10) scale(1.0000,1.0350)" font-size="18" text-anchor="end">200</text><line x1="672.30" y1="356.25" x2="678.30" y2="356.25" stroke="#000" stroke-width="2.2"/><text transform="translate(663.00,363.25) scale(1.0000,1.0350)" font-size="18" text-anchor="end">250</text><rect x="672.30" y="345.70" width="367.10" height="294.80" fill="none" stroke="#000" stroke-width="2.9"/><text transform="translate(671.50,664.70) scale(1.0000,1.0350)" font-size="18" text-anchor="middle">0</text><text transform="translate(744.92,664.70) scale(1.0000,1.0350)" font-size="18" text-anchor="middle">0.2</text><text transform="translate(818.34,664.70) scale(1.0000,1.0350)" font-size="18" text-anchor="middle">0.4</text><text transform="translate(891.76,664.70) scale(1.0000,1.0350)" font-size="18" text-anchor="middle">0.6</text><text transform="translate(965.18,664.70) scale(1.0000,1.0350)" font-size="18" text-anchor="middle">0.8</text><text transform="translate(1038.60,664.70) scale(1.0000,1.0350)" font-size="18" text-anchor="middle">1.0</text>
<text transform="translate(876.00,696.60) scale(1.0000,1.0350)" font-size="27.85" font-weight="bold" text-anchor="middle">Young’s modulus (a.u.)</text>
<text transform="translate(619.80,488.00) rotate(-90) scale(1.0000,1.0350)" font-size="27.6" font-weight="bold" text-anchor="middle">Count</text>
<text transform="translate(942.60,383.40) scale(1.0000,1.0350)" font-size="30.9" font-weight="bold">PLPG</text>
<text transform="translate(1058.50,375.00)" font-size="42" stroke="#000" stroke-width="0.4">f</text>
<rect x="1188.00" y="381.50" width="48.00" height="263.10" fill="#9fd89f"/>
<rect x="1282.10" y="523.90" width="47.70" height="120.70" fill="#99d7f2"/>
<rect x="1375.90" y="511.70" width="47.90" height="132.90" fill="#c2b1d8"/>
<rect x="1471.10" y="535.40" width="47.00" height="109.20" fill="#eda1a8"/>
<text transform="translate(1160.20,649.40) scale(1.0000,1.0350)" font-size="18" font-weight="bold" text-anchor="end">0.0</text>
<line x1="1164.70" y1="618.30" x2="1168.30" y2="618.30" stroke="#000" stroke-width="2.0"/>
<line x1="1164.70" y1="592.00" x2="1171.10" y2="592.00" stroke="#000" stroke-width="2.4"/>
<text transform="translate(1160.20,596.80) scale(1.0000,1.0350)" font-size="18" font-weight="bold" text-anchor="end">0.2</text>
<line x1="1164.70" y1="565.70" x2="1168.30" y2="565.70" stroke="#000" stroke-width="2.0"/>
<line x1="1164.70" y1="539.40" x2="1171.10" y2="539.40" stroke="#000" stroke-width="2.4"/>
<text transform="translate(1160.20,544.20) scale(1.0000,1.0350)" font-size="18" font-weight="bold" text-anchor="end">0.4</text>
<line x1="1164.70" y1="513.10" x2="1168.30" y2="513.10" stroke="#000" stroke-width="2.0"/>
<line x1="1164.70" y1="486.80" x2="1171.10" y2="486.80" stroke="#000" stroke-width="2.4"/>
<text transform="translate(1160.20,491.60) scale(1.0000,1.0350)" font-size="18" font-weight="bold" text-anchor="end">0.6</text>
<line x1="1164.70" y1="460.50" x2="1168.30" y2="460.50" stroke="#000" stroke-width="2.0"/>
<line x1="1164.70" y1="434.20" x2="1171.10" y2="434.20" stroke="#000" stroke-width="2.4"/>
<text transform="translate(1160.20,439.00) scale(1.0000,1.0350)" font-size="18" font-weight="bold" text-anchor="end">0.8</text>
<line x1="1164.70" y1="407.90" x2="1168.30" y2="407.90" stroke="#000" stroke-width="2.0"/>
<line x1="1164.70" y1="381.60" x2="1171.10" y2="381.60" stroke="#000" stroke-width="2.4"/>
<text transform="translate(1160.20,386.40) scale(1.0000,1.0350)" font-size="18" font-weight="bold" text-anchor="end">1.0</text>
<rect x="1164.70" y="355.40" width="376.70" height="289.20" fill="none" stroke="#000" stroke-width="2.9"/>
<text transform="translate(1177.00,684.00) scale(1.0000,1.0350)" font-size="27.4" font-weight="bold">Pr-P</text>
<text transform="translate(1276.00,684.00) scale(1.0000,1.0350)" font-size="27.4" font-weight="bold">PLP</text>
<text transform="translate(1355.20,684.00) scale(1.0000,1.0350)" font-size="27.4" font-weight="bold">PLPG</text>
<text transform="translate(1446.30,684.00) scale(1.0000,1.0350)" font-size="27.4" font-weight="bold">PLPG-S</text>
<text transform="translate(1114.80,499.00) rotate(-90) scale(1.0000,1.0500)" font-size="28.0" text-anchor="middle">Young's modulus (a.u.)</text>
<defs><filter id="sb" x="-20%" y="-20%" width="140%" height="140%"><feGaussianBlur stdDeviation="15"/></filter><filter id="sb2" x="-50%" y="-50%" width="200%" height="200%"><feGaussianBlur stdDeviation="6"/></filter><filter id="sb3" x="-50%" y="-50%" width="200%" height="200%"><feGaussianBlur stdDeviation="45"/></filter><path id="m1" d="M-269 -345L-104 -345A65 65 0 0 1 -39 -280L-39 -212A65 65 0 0 0 -25 -98L-92 -98L-92 -12A68 68 0 0 0 -209 -40L-237 -35A100 100 0 0 1 -337 -135L-337 -282L-269 -282ZM-269 345L-104 345A65 65 0 0 0 -39 280L-39 212A65 65 0 0 1 -25 98L-92 98L-92 12A68 68 0 0 1 -209 40L-237 35A100 100 0 0 0 -337 135L-337 282L-269 282ZM269 -345L104 -345A65 65 0 0 0 39 -280L39 -212A65 65 0 0 1 25 -98L92 -98L92 -12A68 68 0 0 1 209 -40L237 -35A100 100 0 0 0 337 -135L337 -282L269 -282ZM269 345L104 345A65 65 0 0 1 39 280L39 212A65 65 0 0 0 25 98L92 98L92 12A68 68 0 0 0 209 40L237 35A100 100 0 0 1 337 135L337 282L269 282ZM-617 0A68 68 0 0 1 -499 -46A65 65 0 0 0 -386 -90L-386 -282L-456 -282L-456 -470L-269 -470L-269 -393L-102 -393A65 65 0 0 0 -52 -500A68 68 0 0 1 0 -611M-617 0A68 68 0 0 0 -499 46A65 65 0 0 1 -386 90L-386 282L-456 282L-456 470L-269 470L-269 393L-102 393A65 65 0 0 1 -52 500A68 68 0 0 0 0 611M617 0A68 68 0 0 0 499 -46A65 65 0 0 1 386 -90L386 -282L456 -282L456 -470L269 -470L269 -393L102 -393A65 65 0 0 1 52 -500A68 68 0 0 0 0 -611M617 0A68 68 0 0 1 499 46A65 65 0 0 0 386 90L386 282L456 282L456 470L269 470L269 393L102 393A65 65 0 0 0 52 500A68 68 0 0 1 0 611M-92 -12V12M92 -12V12M-25 -98H25M-25 98H25"/><clipPath id="cs1"><path d="M-617 0A68 68 0 0 1 -499 -46A65 65 0 0 0 -386 -90L-386 -282L-456 -282L-456 -470L-269 -470L-269 -393L-102 -393A65 65 0 0 0 -52 -500A68 68 0 0 1 0 -611A68 68 0 0 1 52 -500A65 65 0 0 0 102 -393L269 -393L269 -470L456 -470L456 -282L386 -282L386 -90A65 65 0 0 0 499 -46A68 68 0 0 1 617 0A68 68 0 0 1 499 46A65 65 0 0 0 386 90L386 282L456 282L456 470L269 470L269 393L102 393A65 65 0 0 0 52 500A68 68 0 0 1 0 611A68 68 0 0 1 -52 500A65 65 0 0 0 -102 393L-269 393L-269 470L-456 470L-456 282L-386 282L-386 90A65 65 0 0 0 -499 46A68 68 0 0 1 -617 0ZM-269 -345L-104 -345A65 65 0 0 1 -39 -280L-39 -212A65 65 0 0 0 -25 -98L-92 -98L-92 -12A68 68 0 0 0 -209 -40L-237 -35A100 100 0 0 1 -337 -135L-337 -282L-269 -282ZM-269 345L-104 345A65 65 0 0 0 -39 280L-39 212A65 65 0 0 1 -25 98L-92 98L-92 12A68 68 0 0 1 -209 40L-237 35A100 100 0 0 0 -337 135L-337 282L-269 282ZM269 -345L104 -345A65 65 0 0 0 39 -280L39 -212A65 65 0 0 1 25 -98L92 -98L92 -12A68 68 0 0 1 209 -40L237 -35A100 100 0 0 0 337 -135L337 -282L269 -282ZM269 345L104 345A65 65 0 0 1 39 280L39 212A65 65 0 0 0 25 98L92 98L92 12A68 68 0 0 0 209 40L237 35A100 100 0 0 1 337 135L337 282L269 282Z" clip-rule="evenodd"/></clipPath><path id="m2" d="M-258 -340L-104 -340A65 65 0 0 1 -39 -275L-39 -217A65 65 0 0 0 -20 -103A105 105 0 0 0 -103 -20A65 65 0 0 0 -215 -35L-237 -35A95 95 0 0 1 -332 -130L-332 -276A105 105 0 0 0 -258 -340ZM-258 340L-104 340A65 65 0 0 0 -39 275L-39 217A65 65 0 0 1 -20 103A105 105 0 0 1 -103 20A65 65 0 0 1 -215 35L-237 35A95 95 0 0 0 -332 130L-332 276A105 105 0 0 1 -258 340ZM258 -340L104 -340A65 65 0 0 0 39 -275L39 -217A65 65 0 0 1 20 -103A105 105 0 0 1 103 -20A65 65 0 0 1 215 -35L237 -35A95 95 0 0 0 332 -130L332 -276A105 105 0 0 1 258 -340ZM258 340L104 340A65 65 0 0 1 39 275L39 217A65 65 0 0 0 20 103A105 105 0 0 0 103 20A65 65 0 0 0 215 35L237 35A95 95 0 0 1 332 130L332 276A105 105 0 0 0 258 340ZM-613 0A68 68 0 0 1 -494 -45A65 65 0 0 0 -381 -89L-381 -276A105 105 0 1 1 -252 -390L-100 -390A65 65 0 0 0 -51 -498A68 68 0 0 1 0 -611M-613 0A68 68 0 0 0 -494 45A65 65 0 0 1 -381 89L-381 276A105 105 0 1 0 -252 390L-100 390A65 65 0 0 1 -51 498A68 68 0 0 0 0 611M613 0A68 68 0 0 0 494 -45A65 65 0 0 1 381 -89L381 -276A105 105 0 1 0 252 -390L100 -390A65 65 0 0 1 51 -498A68 68 0 0 0 0 -611M613 0A68 68 0 0 1 494 45A65 65 0 0 0 381 89L381 276A105 105 0 1 1 252 390L100 390A65 65 0 0 0 51 498A68 68 0 0 1 0 611"/><clipPath id="cs2"><path d="M-613 0A68 68 0 0 1 -494 -45A65 65 0 0 0 -381 -89L-381 -276A105 105 0 1 1 -252 -390L-100 -390A65 65 0 0 0 -51 -498A68 68 0 0 1 0 -611A68 68 0 0 1 51 -498A65 65 0 0 0 100 -390L252 -390A105 105 0 1 1 381 -276L381 -89A65 65 0 0 0 494 -45A68 68 0 0 1 613 0A68 68 0 0 1 494 45A65 65 0 0 0 381 89L381 276A105 105 0 1 1 252 390L100 390A65 65 0 0 0 51 498A68 68 0 0 1 0 611A68 68 0 0 1 -51 498A65 65 0 0 0 -100 390L-252 390A105 105 0 1 1 -381 276L-381 89A65 65 0 0 0 -494 45A68 68 0 0 1 -613 0ZM-258 -340L-104 -340A65 65 0 0 1 -39 -275L-39 -217A65 65 0 0 0 -20 -103A105 105 0 0 0 -103 -20A65 65 0 0 0 -215 -35L-237 -35A95 95 0 0 1 -332 -130L-332 -276A105 105 0 0 0 -258 -340ZM-258 340L-104 340A65 65 0 0 0 -39 275L-39 217A65 65 0 0 1 -20 103A105 105 0 0 1 -103 20A65 65 0 0 1 -215 35L-237 35A95 95 0 0 0 -332 130L-332 276A105 105 0 0 1 -258 340ZM258 -340L104 -340A65 65 0 0 0 39 -275L39 -217A65 65 0 0 1 20 -103A105 105 0 0 1 103 -20A65 65 0 0 1 215 -35L237 -35A95 95 0 0 0 332 -130L332 -276A105 105 0 0 1 258 -340ZM258 340L104 340A65 65 0 0 1 39 275L39 217A65 65 0 0 0 20 103A105 105 0 0 0 103 20A65 65 0 0 0 215 35L237 35A95 95 0 0 1 332 130L332 276A105 105 0 0 0 258 340Z" clip-rule="evenodd"/></clipPath><path id="m3" d="M-258 -340A60 60 0 0 0 -181 -340A60 60 0 0 0 -104 -340A65 65 0 0 1 -39 -275L-39 -217A65 65 0 0 0 -20 -103A105 105 0 0 0 -103 -20A65 65 0 0 0 -215 -35L-237 -35A95 95 0 0 1 -332 -130A60 60 0 0 0 -332 -203A60 60 0 0 0 -332 -276A105 105 0 0 0 -258 -340ZM-258 340A60 60 0 0 1 -181 340A60 60 0 0 1 -104 340A65 65 0 0 0 -39 275L-39 217A65 65 0 0 1 -20 103A105 105 0 0 1 -103 20A65 65 0 0 1 -215 35L-237 35A95 95 0 0 0 -332 130A60 60 0 0 1 -332 203A60 60 0 0 1 -332 276A105 105 0 0 1 -258 340ZM258 -340A60 60 0 0 1 181 -340A60 60 0 0 1 104 -340A65 65 0 0 0 39 -275L39 -217A65 65 0 0 1 20 -103A105 105 0 0 1 103 -20A65 65 0 0 1 215 -35L237 -35A95 95 0 0 0 332 -130A60 60 0 0 1 332 -203A60 60 0 0 1 332 -276A105 105 0 0 1 258 -340ZM258 340A60 60 0 0 0 181 340A60 60 0 0 0 104 340A65 65 0 0 1 39 275L39 217A65 65 0 0 0 20 103A105 105 0 0 0 103 20A65 65 0 0 0 215 35L237 35A95 95 0 0 1 332 130A60 60 0 0 0 332 203A60 60 0 0 0 332 276A105 105 0 0 0 258 340ZM-613 0A68 68 0 0 1 -494 -45A65 65 0 0 0 -381 -89A60 60 0 0 1 -381 -182A60 60 0 0 1 -381 -276A105 105 0 1 1 -252 -390A60 60 0 0 1 -176 -390A60 60 0 0 1 -100 -390A65 65 0 0 0 -51 -498A68 68 0 0 1 0 -611M-613 0A68 68 0 0 0 -494 45A65 65 0 0 1 -381 89A60 60 0 0 0 -381 182A60 60 0 0 0 -381 276A105 105 0 1 0 -252 390A60 60 0 0 0 -176 390A60 60 0 0 0 -100 390A65 65 0 0 1 -51 498A68 68 0 0 0 0 611M613 0A68 68 0 0 0 494 -45A65 65 0 0 1 381 -89A60 60 0 0 0 381 -182A60 60 0 0 0 381 -276A105 105 0 1 0 252 -390A60 60 0 0 0 176 -390A60 60 0 0 0 100 -390A65 65 0 0 1 51 -498A68 68 0 0 0 0 -611M613 0A68 68 0 0 1 494 45A65 65 0 0 0 381 89A60 60 0 0 1 381 182A60 60 0 0 1 381 276A105 105 0 1 1 252 390A60 60 0 0 1 176 390A60 60 0 0 1 100 390A65 65 0 0 0 51 498A68 68 0 0 1 0 611"/><clipPath id="cs3"><path d="M-613 0A68 68 0 0 1 -494 -45A65 65 0 0 0 -381 -89A60 60 0 0 1 -381 -182A60 60 0 0 1 -381 -276A105 105 0 1 1 -252 -390A60 60 0 0 1 -176 -390A60 60 0 0 1 -100 -390A65 65 0 0 0 -51 -498A68 68 0 0 1 0 -611A68 68 0 0 1 51 -498A65 65 0 0 0 100 -390A60 60 0 0 1 176 -390A60 60 0 0 1 252 -390A105 105 0 1 1 381 -276A60 60 0 0 1 381 -182A60 60 0 0 1 381 -89A65 65 0 0 0 494 -45A68 68 0 0 1 613 0A68 68 0 0 1 494 45A65 65 0 0 0 381 89A60 60 0 0 1 381 182A60 60 0 0 1 381 276A105 105 0 1 1 252 390A60 60 0 0 1 176 390A60 60 0 0 1 100 390A65 65 0 0 0 51 498A68 68 0 0 1 0 611A68 68 0 0 1 -51 498A65 65 0 0 0 -100 390A60 60 0 0 1 -176 390A60 60 0 0 1 -252 390A105 105 0 1 1 -381 276A60 60 0 0 1 -381 182A60 60 0 0 1 -381 89A65 65 0 0 0 -494 45A68 68 0 0 1 -613 0ZM-258 -340A60 60 0 0 0 -181 -340A60 60 0 0 0 -104 -340A65 65 0 0 1 -39 -275L-39 -217A65 65 0 0 0 -20 -103A105 105 0 0 0 -103 -20A65 65 0 0 0 -215 -35L-237 -35A95 95 0 0 1 -332 -130A60 60 0 0 0 -332 -203A60 60 0 0 0 -332 -276A105 105 0 0 0 -258 -340ZM-258 340A60 60 0 0 1 -181 340A60 60 0 0 1 -104 340A65 65 0 0 0 -39 275L-39 217A65 65 0 0 1 -20 103A105 105 0 0 1 -103 20A65 65 0 0 1 -215 35L-237 35A95 95 0 0 0 -332 130A60 60 0 0 1 -332 203A60 60 0 0 1 -332 276A105 105 0 0 1 -258 340ZM258 -340A60 60 0 0 1 181 -340A60 60 0 0 1 104 -340A65 65 0 0 0 39 -275L39 -217A65 65 0 0 1 20 -103A105 105 0 0 1 103 -20A65 65 0 0 1 215 -35L237 -35A95 95 0 0 0 332 -130A60 60 0 0 1 332 -203A60 60 0 0 1 332 -276A105 105 0 0 1 258 -340ZM258 340A60 60 0 0 0 181 340A60 60 0 0 0 104 340A65 65 0 0 1 39 275L39 217A65 65 0 0 0 20 103A105 105 0 0 0 103 20A65 65 0 0 0 215 35L237 35A95 95 0 0 1 332 130A60 60 0 0 0 332 203A60 60 0 0 0 332 276A105 105 0 0 0 258 340Z" clip-rule="evenodd"/></clipPath><g id="arr"><g stroke="#f5202e" fill="none" stroke-linecap="butt"><line x1="-588" y1="-520" x2="-564" y2="-564" stroke-width="5.8" stroke-opacity="0.95"/><line x1="564" y1="-564" x2="588" y2="-520" stroke-width="5.8" stroke-opacity="0.95"/><line x1="-586" y1="-432" x2="-566" y2="-468" stroke-width="5.3" stroke-opacity="0.87"/><line x1="566" y1="-468" x2="586" y2="-432" stroke-width="5.3" stroke-opacity="0.87"/><line x1="-584" y1="-347" x2="-568" y2="-373" stroke-width="4.9" stroke-opacity="0.80"/><line x1="568" y1="-373" x2="584" y2="-347" stroke-width="4.9" stroke-opacity="0.80"/><line x1="-581" y1="-261" x2="-571" y2="-279" stroke-width="4.5" stroke-opacity="0.72"/><line x1="571" y1="-279" x2="581" y2="-261" stroke-width="4.5" stroke-opacity="0.72"/><line x1="-579" y1="-179" x2="-573" y2="-191" stroke-width="4.1" stroke-opacity="0.65"/><line x1="573" y1="-191" x2="579" y2="-179" stroke-width="4.1" stroke-opacity="0.65"/><line x1="-578" y1="-92" x2="-574" y2="-98" stroke-width="3.7" stroke-opacity="0.58"/><line x1="574" y1="-98" x2="578" y2="-92" stroke-width="3.7" stroke-opacity="0.58"/><line x1="-578" y1="92" x2="-574" y2="98" stroke-width="3.7" stroke-opacity="0.58"/><line x1="574" y1="98" x2="578" y2="92" stroke-width="3.7" stroke-opacity="0.58"/><line x1="-579" y1="179" x2="-573" y2="191" stroke-width="4.1" stroke-opacity="0.65"/><line x1="573" y1="191" x2="579" y2="179" stroke-width="4.1" stroke-opacity="0.65"/><line x1="-581" y1="261" x2="-571" y2="279" stroke-width="4.5" stroke-opacity="0.72"/><line x1="571" y1="279" x2="581" y2="261" stroke-width="4.5" stroke-opacity="0.72"/><line x1="-584" y1="347" x2="-568" y2="373" stroke-width="4.9" stroke-opacity="0.80"/><line x1="568" y1="373" x2="584" y2="347" stroke-width="4.9" stroke-opacity="0.80"/><line x1="-586" y1="432" x2="-566" y2="468" stroke-width="5.3" stroke-opacity="0.87"/><line x1="566" y1="468" x2="586" y2="432" stroke-width="5.3" stroke-opacity="0.87"/><line x1="-588" y1="520" x2="-564" y2="564" stroke-width="5.8" stroke-opacity="0.95"/><line x1="564" y1="564" x2="588" y2="520" stroke-width="5.8" stroke-opacity="0.95"/><line x1="-496" y1="-546" x2="-472" y2="-564" stroke-width="4.5" stroke-opacity="0.8"/><line x1="-496" y1="546" x2="-472" y2="564" stroke-width="4.5" stroke-opacity="0.8"/><line x1="472" y1="-564" x2="496" y2="-546" stroke-width="4.5" stroke-opacity="0.8"/><line x1="472" y1="564" x2="496" y2="546" stroke-width="4.5" stroke-opacity="0.8"/><line x1="-389" y1="-558" x2="-379" y2="-566" stroke-width="4" stroke-opacity="0.5"/><line x1="-389" y1="558" x2="-379" y2="566" stroke-width="4" stroke-opacity="0.5"/><line x1="379" y1="-566" x2="389" y2="-558" stroke-width="4" stroke-opacity="0.5"/><line x1="379" y1="566" x2="389" y2="558" stroke-width="4" stroke-opacity="0.5"/><line x1="-292" y1="-560" x2="-286" y2="-564" stroke-width="4" stroke-opacity="0.3"/><line x1="-292" y1="560" x2="-286" y2="564" stroke-width="4" stroke-opacity="0.3"/><line x1="286" y1="-564" x2="292" y2="-560" stroke-width="4" stroke-opacity="0.3"/><line x1="286" y1="564" x2="292" y2="560" stroke-width="4" stroke-opacity="0.3"/><line x1="-196" y1="-560" x2="-192" y2="-564" stroke-width="3.5" stroke-opacity="0.2"/><line x1="-196" y1="560" x2="-192" y2="564" stroke-width="3.5" stroke-opacity="0.2"/><line x1="192" y1="-564" x2="196" y2="-560" stroke-width="3.5" stroke-opacity="0.2"/><line x1="192" y1="564" x2="196" y2="560" stroke-width="3.5" stroke-opacity="0.2"/><circle cx="-592" cy="-617" r="5" fill="#f01020" stroke="none" opacity="0.9"/><circle cx="-592" cy="617" r="5" fill="#f01020" stroke="none" opacity="0.9"/><circle cx="592" cy="-617" r="5" fill="#f01020" stroke="none" opacity="0.9"/><circle cx="592" cy="617" r="5" fill="#f01020" stroke="none" opacity="0.9"/></g></g><g id="st10"><g clip-path="url(#cs1)"><g filter="url(#sb)" fill="none" stroke-linecap="butt"><rect x="-462" y="-476" width="200" height="200" fill="#d2cdf6" opacity="0.30"/><ellipse cx="-340" cy="-352" rx="80" ry="80" fill="#d2cdf6" opacity="0.55"/><rect x="-462" y="276" width="200" height="200" fill="#d2cdf6" opacity="0.30"/><ellipse cx="-340" cy="352" rx="80" ry="80" fill="#d2cdf6" opacity="0.55"/><rect x="262" y="-476" width="200" height="200" fill="#d2cdf6" opacity="0.30"/><ellipse cx="340" cy="-352" rx="80" ry="80" fill="#d2cdf6" opacity="0.55"/><rect x="262" y="276" width="200" height="200" fill="#d2cdf6" opacity="0.30"/><ellipse cx="340" cy="352" rx="80" ry="80" fill="#d2cdf6" opacity="0.55"/><rect x="-95" y="-60" width="190" height="120" fill="#d2cdf6" opacity="0.33"/><path d="M-361 -367H361M-361 367H361M-361 -367V367M361 -367V367" stroke="#d2cdf6" stroke-width="76"/><path d="M-600 0H-95M95 0H600" stroke="#d2cdf6" stroke-width="120" opacity="0.6"/><path d="M-470 0H-95M95 0H470" stroke="#c3bcf5" stroke-width="84"/><path d="M-276 -367H-95M95 -367H276M-276 367H-95M95 367H276M-361 -277V-95M-361 95V277M361 -277V-95M361 95V277" stroke="#c3bcf5" stroke-width="62"/><ellipse cx="-361" cy="0" rx="62" ry="70" fill="#bdb5f5" opacity="0.85"/><ellipse cx="361" cy="0" rx="62" ry="70" fill="#bdb5f5" opacity="0.85"/><ellipse cx="-175" cy="0" rx="55" ry="40" fill="#bdb5f5" opacity="0.85"/><ellipse cx="175" cy="0" rx="55" ry="40" fill="#bdb5f5" opacity="0.85"/></g></g></g><g id="st11"><g filter="url(#sb3)" opacity="0.6"><ellipse cx="-530" cy="0" rx="90" ry="330" fill="#d0ccf0"/><ellipse cx="530" cy="0" rx="90" ry="330" fill="#d0ccf0"/><ellipse cx="0" cy="0" rx="470" ry="470" fill="#e2e0f4"/></g><g clip-path="url(#cs1)"><g filter="url(#sb)" fill="none" stroke-linecap="butt"><rect x="-462" y="-476" width="200" height="200" fill="#bcb3f5" opacity="0.44"/><ellipse cx="-340" cy="-352" rx="80" ry="80" fill="#bcb3f5" opacity="0.8"/><rect x="-462" y="276" width="200" height="200" fill="#bcb3f5" opacity="0.44"/><ellipse cx="-340" cy="352" rx="80" ry="80" fill="#bcb3f5" opacity="0.8"/><rect x="262" y="-476" width="200" height="200" fill="#bcb3f5" opacity="0.44"/><ellipse cx="340" cy="-352" rx="80" ry="80" fill="#bcb3f5" opacity="0.8"/><rect x="262" y="276" width="200" height="200" fill="#bcb3f5" opacity="0.44"/><ellipse cx="340" cy="352" rx="80" ry="80" fill="#bcb3f5" opacity="0.8"/><rect x="-95" y="-60" width="190" height="120" fill="#bcb3f5" opacity="0.48"/><path d="M-361 -367H361M-361 367H361M-361 -367V367M361 -367V367" stroke="#bcb3f5" stroke-width="76"/><path d="M-600 0H-95M95 0H600" stroke="#bcb3f5" stroke-width="120" opacity="0.85"/><path d="M-470 0H-95M95 0H470" stroke="#a198f7" stroke-width="84"/><path d="M-276 -367H-95M95 -367H276M-276 367H-95M95 367H276M-361 -277V-95M-361 95V277M361 -277V-95M361 95V277" stroke="#a198f7" stroke-width="62"/><ellipse cx="-361" cy="0" rx="62" ry="70" fill="#8c8cf9" opacity="0.85"/><ellipse cx="361" cy="0" rx="62" ry="70" fill="#8c8cf9" opacity="0.85"/><ellipse cx="-175" cy="0" rx="55" ry="40" fill="#8c8cf9" opacity="0.85"/><ellipse cx="175" cy="0" rx="55" ry="40" fill="#8c8cf9" opacity="0.85"/><path d="M-266 -367H-140M140 -367H266M-266 367H-140M140 367H266M-361 -267V-140M-361 140V267M361 -267V-140M361 140V267" stroke="#8c8cf9" stroke-width="44"/></g><g filter="url(#sb2)" fill="#22dcf4" opacity="0.95"><ellipse cx="-228" cy="-389" rx="40" ry="11"/><ellipse cx="-382" cy="-250" rx="11" ry="34"/><ellipse cx="-228" cy="389" rx="40" ry="11"/><ellipse cx="-382" cy="250" rx="11" ry="34"/><ellipse cx="228" cy="-389" rx="40" ry="11"/><ellipse cx="382" cy="-250" rx="11" ry="34"/><ellipse cx="228" cy="389" rx="40" ry="11"/><ellipse cx="382" cy="250" rx="11" ry="34"/></g></g></g><g id="st20"><g clip-path="url(#cs2)"><g filter="url(#sb)" fill="none" stroke-linecap="butt"><circle cx="-356" cy="-378" r="112" fill="#d2cdf6" opacity="0.30"/><ellipse cx="-338" cy="-356" rx="80" ry="80" fill="#d2cdf6" opacity="0.55"/><circle cx="-356" cy="378" r="112" fill="#d2cdf6" opacity="0.30"/><ellipse cx="-338" cy="356" rx="80" ry="80" fill="#d2cdf6" opacity="0.55"/><circle cx="356" cy="-378" r="112" fill="#d2cdf6" opacity="0.30"/><ellipse cx="338" cy="-356" rx="80" ry="80" fill="#d2cdf6" opacity="0.55"/><circle cx="356" cy="378" r="112" fill="#d2cdf6" opacity="0.30"/><ellipse cx="338" cy="356" rx="80" ry="80" fill="#d2cdf6" opacity="0.55"/><ellipse cx="0" cy="0" rx="110" ry="70" fill="#d2cdf6" opacity="0.41"/><path d="M-361 -367H361M-361 367H361M-361 -367V367M361 -367V367" stroke="#d2cdf6" stroke-width="76"/><path d="M-600 0H-95M95 0H600" stroke="#d2cdf6" stroke-width="120" opacity="0.6"/><path d="M-470 0H-95M95 0H470" stroke="#c3bcf5" stroke-width="84"/><path d="M-276 -367H-95M95 -367H276M-276 367H-95M95 367H276M-361 -277V-95M-361 95V277M361 -277V-95M361 95V277" stroke="#c3bcf5" stroke-width="62"/><ellipse cx="-361" cy="0" rx="62" ry="70" fill="#bdb5f5" opacity="0.85"/><ellipse cx="361" cy="0" rx="62" ry="70" fill="#bdb5f5" opacity="0.85"/><ellipse cx="-175" cy="0" rx="55" ry="40" fill="#bdb5f5" opacity="0.85"/><ellipse cx="175" cy="0" rx="55" ry="40" fill="#bdb5f5" opacity="0.85"/></g></g></g><g id="st21"><g filter="url(#sb3)" opacity="0.6"><ellipse cx="-530" cy="0" rx="90" ry="330" fill="#d0ccf0"/><ellipse cx="530" cy="0" rx="90" ry="330" fill="#d0ccf0"/><ellipse cx="0" cy="0" rx="470" ry="470" fill="#e2e0f4"/></g><g clip-path="url(#cs2)"><g filter="url(#sb)" fill="none" stroke-linecap="butt"><circle cx="-356" cy="-378" r="112" fill="#bcb3f5" opacity="0.44"/><ellipse cx="-338" cy="-356" rx="80" ry="80" fill="#bcb3f5" opacity="0.8"/><circle cx="-356" cy="378" r="112" fill="#bcb3f5" opacity="0.44"/><ellipse cx="-338" cy="356" rx="80" ry="80" fill="#bcb3f5" opacity="0.8"/><circle cx="356" cy="-378" r="112" fill="#bcb3f5" opacity="0.44"/><ellipse cx="338" cy="-356" rx="80" ry="80" fill="#bcb3f5" opacity="0.8"/><circle cx="356" cy="378" r="112" fill="#bcb3f5" opacity="0.44"/><ellipse cx="338" cy="356" rx="80" ry="80" fill="#bcb3f5" opacity="0.8"/><ellipse cx="0" cy="0" rx="110" ry="70" fill="#bcb3f5" opacity="0.60"/><path d="M-361 -367H361M-361 367H361M-361 -367V367M361 -367V367" stroke="#bcb3f5" stroke-width="76"/><path d="M-600 0H-95M95 0H600" stroke="#bcb3f5" stroke-width="120" opacity="0.85"/><path d="M-470 0H-95M95 0H470" stroke="#a198f7" stroke-width="84"/><path d="M-276 -367H-95M95 -367H276M-276 367H-95M95 367H276M-361 -277V-95M-361 95V277M361 -277V-95M361 95V277" stroke="#a198f7" stroke-width="62"/><ellipse cx="-361" cy="0" rx="62" ry="70" fill="#8c8cf9" opacity="0.85"/><ellipse cx="361" cy="0" rx="62" ry="70" fill="#8c8cf9" opacity="0.85"/><ellipse cx="-175" cy="0" rx="55" ry="40" fill="#8c8cf9" opacity="0.85"/><ellipse cx="175" cy="0" rx="55" ry="40" fill="#8c8cf9" opacity="0.85"/><path d="M-266 -367H-140M140 -367H266M-266 367H-140M140 367H266M-361 -267V-140M-361 140V267M361 -267V-140M361 140V267" stroke="#8c8cf9" stroke-width="44"/></g><g filter="url(#sb2)" fill="#22dcf4" opacity="0.95"><ellipse cx="-228" cy="-389" rx="40" ry="11"/><ellipse cx="-382" cy="-250" rx="11" ry="34"/><ellipse cx="-228" cy="389" rx="40" ry="11"/><ellipse cx="-382" cy="250" rx="11" ry="34"/><ellipse cx="228" cy="-389" rx="40" ry="11"/><ellipse cx="382" cy="-250" rx="11" ry="34"/><ellipse cx="228" cy="389" rx="40" ry="11"/><ellipse cx="382" cy="250" rx="11" ry="34"/></g></g></g><g id="st30"><g clip-path="url(#cs3)"><g filter="url(#sb)" fill="none" stroke-linecap="butt"><circle cx="-356" cy="-378" r="112" fill="#d2cdf6" opacity="0.30"/><ellipse cx="-338" cy="-356" rx="80" ry="80" fill="#d2cdf6" opacity="0.55"/><circle cx="-356" cy="378" r="112" fill="#d2cdf6" opacity="0.30"/><ellipse cx="-338" cy="356" rx="80" ry="80" fill="#d2cdf6" opacity="0.55"/><circle cx="356" cy="-378" r="112" fill="#d2cdf6" opacity="0.30"/><ellipse cx="338" cy="-356" rx="80" ry="80" fill="#d2cdf6" opacity="0.55"/><circle cx="356" cy="378" r="112" fill="#d2cdf6" opacity="0.30"/><ellipse cx="338" cy="356" rx="80" ry="80" fill="#d2cdf6" opacity="0.55"/><ellipse cx="0" cy="0" rx="110" ry="70" fill="#d2cdf6" opacity="0.41"/><path d="M-361 -367H361M-361 367H361M-361 -367V367M361 -367V367" stroke="#d2cdf6" stroke-width="76"/><path d="M-600 0H-95M95 0H600" stroke="#d2cdf6" stroke-width="120" opacity="0.6"/><path d="M-470 0H-95M95 0H470" stroke="#c3bcf5" stroke-width="84"/><path d="M-276 -367H-95M95 -367H276M-276 367H-95M95 367H276M-361 -277V-95M-361 95V277M361 -277V-95M361 95V277" stroke="#c3bcf5" stroke-width="62"/><ellipse cx="-361" cy="0" rx="62" ry="70" fill="#bdb5f5" opacity="0.85"/><ellipse cx="361" cy="0" rx="62" ry="70" fill="#bdb5f5" opacity="0.85"/><ellipse cx="-175" cy="0" rx="55" ry="40" fill="#bdb5f5" opacity="0.85"/><ellipse cx="175" cy="0" rx="55" ry="40" fill="#bdb5f5" opacity="0.85"/></g></g></g><g id="st31"><g filter="url(#sb3)" opacity="0.6"><ellipse cx="-530" cy="0" rx="90" ry="330" fill="#d0ccf0"/><ellipse cx="530" cy="0" rx="90" ry="330" fill="#d0ccf0"/><ellipse cx="0" cy="0" rx="470" ry="470" fill="#e2e0f4"/></g><g clip-path="url(#cs3)"><g filter="url(#sb)" fill="none" stroke-linecap="butt"><circle cx="-356" cy="-378" r="112" fill="#bcb3f5" opacity="0.44"/><ellipse cx="-338" cy="-356" rx="80" ry="80" fill="#bcb3f5" opacity="0.8"/><circle cx="-356" cy="378" r="112" fill="#bcb3f5" opacity="0.44"/><ellipse cx="-338" cy="356" rx="80" ry="80" fill="#bcb3f5" opacity="0.8"/><circle cx="356" cy="-378" r="112" fill="#bcb3f5" opacity="0.44"/><ellipse cx="338" cy="-356" rx="80" ry="80" fill="#bcb3f5" opacity="0.8"/><circle cx="356" cy="378" r="112" fill="#bcb3f5" opacity="0.44"/><ellipse cx="338" cy="356" rx="80" ry="80" fill="#bcb3f5" opacity="0.8"/><ellipse cx="0" cy="0" rx="110" ry="70" fill="#bcb3f5" opacity="0.60"/><path d="M-361 -367H361M-361 367H361M-361 -367V367M361 -367V367" stroke="#bcb3f5" stroke-width="76"/><path d="M-600 0H-95M95 0H600" stroke="#bcb3f5" stroke-width="120" opacity="0.85"/><path d="M-470 0H-95M95 0H470" stroke="#a198f7" stroke-width="84"/><path d="M-276 -367H-95M95 -367H276M-276 367H-95M95 367H276M-361 -277V-95M-361 95V277M361 -277V-95M361 95V277" stroke="#a198f7" stroke-width="62"/><ellipse cx="-361" cy="0" rx="62" ry="70" fill="#8c8cf9" opacity="0.85"/><ellipse cx="361" cy="0" rx="62" ry="70" fill="#8c8cf9" opacity="0.85"/><ellipse cx="-175" cy="0" rx="55" ry="40" fill="#8c8cf9" opacity="0.85"/><ellipse cx="175" cy="0" rx="55" ry="40" fill="#8c8cf9" opacity="0.85"/><path d="M-266 -367H-140M140 -367H266M-266 367H-140M140 367H266M-361 -267V-140M-361 140V267M361 -267V-140M361 140V267" stroke="#8c8cf9" stroke-width="44"/></g><g filter="url(#sb2)" fill="#22dcf4" opacity="0.95"><ellipse cx="-228" cy="-389" rx="40" ry="11"/><ellipse cx="-382" cy="-250" rx="11" ry="34"/><ellipse cx="-228" cy="389" rx="40" ry="11"/><ellipse cx="-382" cy="250" rx="11" ry="34"/><ellipse cx="228" cy="-389" rx="40" ry="11"/><ellipse cx="382" cy="-250" rx="11" ry="34"/><ellipse cx="228" cy="389" rx="40" ry="11"/><ellipse cx="382" cy="250" rx="11" ry="34"/></g></g></g><linearGradient id="cbar" x1="0" y1="0" x2="0" y2="1"><stop offset="0" stop-color="#5f0a4c"/><stop offset="0.07" stop-color="#7a0c48"/><stop offset="0.14" stop-color="#b81228"/><stop offset="0.2" stop-color="#e6201a"/><stop offset="0.27" stop-color="#f4600f"/><stop offset="0.33" stop-color="#fba018"/><stop offset="0.40" stop-color="#ecdc20"/><stop offset="0.47" stop-color="#a8e838"/><stop offset="0.54" stop-color="#48e890"/><stop offset="0.62" stop-color="#22e0ee"/><stop offset="0.70" stop-color="#52b4ff"/><stop offset="0.78" stop-color="#8494ff"/><stop offset="0.86" stop-color="#a898fa"/><stop offset="0.93" stop-color="#cfc6f8"/><stop offset="1" stop-color="#efedf9"/></linearGradient></defs>
<text transform="translate(105.50,771.20)" font-size="42" stroke="#000" stroke-width="0.4">g</text>
<rect x="166.80" y="736.50" width="1374.80" height="622.30" fill="#fdfdfd" stroke="#06693a" stroke-width="3.3"/>
<text transform="translate(459.30,808.20) scale(1.0000,1.0350)" font-size="52.5" text-anchor="middle">M-1</text>
<text transform="translate(840.50,808.20) scale(1.0000,1.0350)" font-size="52.5" text-anchor="middle">M-2</text>
<text transform="translate(1206.20,808.20) scale(1.0000,1.0350)" font-size="52.5" text-anchor="middle">M-3</text>
<text transform="translate(179.20,955.40) scale(1.0000,1.0350)" font-size="52.5">10%</text>
<text transform="translate(179.00,1216.20) scale(1.0000,1.0350)" font-size="52.5">30%</text>
<text transform="translate(287.00,857.50)" font-size="42" font-family='"Liberation Serif", serif'>(i)</text>
<text transform="translate(651.50,857.80)" font-size="42" font-family='"Liberation Serif", serif'>(ii)</text>
<text transform="translate(1014.50,857.80)" font-size="42" font-family='"Liberation Serif", serif'>(iii)</text>
<text transform="translate(281.30,1122.60)" font-size="42" font-family='"Liberation Serif", serif'>(iv)</text>
<text transform="translate(648.00,1122.60)" font-size="42" font-family='"Liberation Serif", serif'>(v)</text>
<text transform="translate(1014.50,1122.60)" font-size="42" font-family='"Liberation Serif", serif'>(vi)</text>
<rect x="351.40" y="827.30" width="231.40" height="231.40" fill="#e9e8f5"/><clipPath id="sc10"><rect x="351.4" y="827.3" width="231.4" height="231.4"/></clipPath><g clip-path="url(#sc10)"><g transform="translate(467.80,943.00) scale(0.18661)"><use href="#st10"/><use href="#m1" fill="none" stroke="#0a0a0a" stroke-width="4.6" stroke-linejoin="round"/><use href="#arr"/></g></g>
<rect x="724.00" y="827.50" width="231.40" height="231.40" fill="#e9e8f5"/><clipPath id="sc20"><rect x="724.0" y="827.5" width="231.4" height="231.4"/></clipPath><g clip-path="url(#sc20)"><g transform="translate(840.40,943.20) scale(0.18661)"><use href="#st20"/><use href="#m2" fill="none" stroke="#0a0a0a" stroke-width="4.6" stroke-linejoin="round"/><use href="#arr"/></g></g>
<rect x="1087.80" y="829.20" width="231.40" height="231.40" fill="#e9e8f5"/><clipPath id="sc30"><rect x="1087.8" y="829.2" width="231.4" height="231.4"/></clipPath><g clip-path="url(#sc30)"><g transform="translate(1204.20,944.90) scale(0.18661)"><use href="#st30"/><use href="#m3" fill="none" stroke="#0a0a0a" stroke-width="4.6" stroke-linejoin="round"/><use href="#arr"/></g></g>
<rect x="351.40" y="1090.00" width="231.40" height="231.40" fill="#e9e8f5"/><clipPath id="sc11"><rect x="351.4" y="1090.0" width="231.4" height="231.4"/></clipPath><g clip-path="url(#sc11)"><g transform="translate(467.80,1205.70) scale(0.18661)"><use href="#st11"/><use href="#m1" fill="none" stroke="#0a0a0a" stroke-width="4.6" stroke-linejoin="round"/><use href="#arr"/></g></g>
<rect x="724.00" y="1090.20" width="231.40" height="231.40" fill="#e9e8f5"/><clipPath id="sc21"><rect x="724.0" y="1090.2" width="231.4" height="231.4"/></clipPath><g clip-path="url(#sc21)"><g transform="translate(840.40,1205.90) scale(0.18661)"><use href="#st21"/><use href="#m2" fill="none" stroke="#0a0a0a" stroke-width="4.6" stroke-linejoin="round"/><use href="#arr"/></g></g>
<rect x="1087.80" y="1091.80" width="231.40" height="231.40" fill="#e9e8f5"/><clipPath id="sc31"><rect x="1087.8" y="1091.8" width="231.4" height="231.4"/></clipPath><g clip-path="url(#sc31)"><g transform="translate(1204.20,1207.50) scale(0.18661)"><use href="#st31"/><use href="#m3" fill="none" stroke="#0a0a0a" stroke-width="4.6" stroke-linejoin="round"/><use href="#arr"/></g></g>
<rect x="1434.70" y="853.40" width="26.20" height="163.90" fill="url(#cbar)"/><rect x="1434.70" y="853.40" width="3.00" height="163.90" fill="#7d7d85"/><rect x="1457.90" y="853.40" width="3.00" height="163.90" fill="#7d7d85"/><rect x="1434.70" y="1016.10" width="26.20" height="1.20" fill="#7d7d85"/><rect x="1434.70" y="853.40" width="26.20" height="1.00" fill="#6a4a6a"/><line x1="1437.20" y1="869.79" x2="1441.70" y2="869.79" stroke="#222" stroke-width="0.9"/><line x1="1453.90" y1="869.79" x2="1458.40" y2="869.79" stroke="#222" stroke-width="0.9"/><line x1="1437.20" y1="886.18" x2="1441.70" y2="886.18" stroke="#222" stroke-width="0.9"/><line x1="1453.90" y1="886.18" x2="1458.40" y2="886.18" stroke="#222" stroke-width="0.9"/><line x1="1437.20" y1="902.57" x2="1441.70" y2="902.57" stroke="#222" stroke-width="0.9"/><line x1="1453.90" y1="902.57" x2="1458.40" y2="902.57" stroke="#222" stroke-width="0.9"/><line x1="1437.20" y1="918.96" x2="1441.70" y2="918.96" stroke="#222" stroke-width="0.9"/><line x1="1453.90" y1="918.96" x2="1458.40" y2="918.96" stroke="#222" stroke-width="0.9"/><line x1="1437.20" y1="935.35" x2="1441.70" y2="935.35" stroke="#222" stroke-width="0.9"/><line x1="1453.90" y1="935.35" x2="1458.40" y2="935.35" stroke="#222" stroke-width="0.9"/><line x1="1437.20" y1="951.74" x2="1441.70" y2="951.74" stroke="#222" stroke-width="0.9"/><line x1="1453.90" y1="951.74" x2="1458.40" y2="951.74" stroke="#222" stroke-width="0.9"/><line x1="1437.20" y1="968.13" x2="1441.70" y2="968.13" stroke="#222" stroke-width="0.9"/><line x1="1453.90" y1="968.13" x2="1458.40" y2="968.13" stroke="#222" stroke-width="0.9"/><line x1="1437.20" y1="984.52" x2="1441.70" y2="984.52" stroke="#222" stroke-width="0.9"/><line x1="1453.90" y1="984.52" x2="1458.40" y2="984.52" stroke="#222" stroke-width="0.9"/><line x1="1437.20" y1="1000.91" x2="1441.70" y2="1000.91" stroke="#222" stroke-width="0.9"/><line x1="1453.90" y1="1000.91" x2="1458.40" y2="1000.91" stroke="#222" stroke-width="0.9"/>
<rect x="1434.70" y="1133.40" width="26.20" height="164.00" fill="url(#cbar)"/><rect x="1434.70" y="1133.40" width="3.00" height="164.00" fill="#7d7d85"/><rect x="1457.90" y="1133.40" width="3.00" height="164.00" fill="#7d7d85"/><rect x="1434.70" y="1296.20" width="26.20" height="1.20" fill="#7d7d85"/><rect x="1434.70" y="1133.40" width="26.20" height="1.00" fill="#6a4a6a"/><line x1="1437.20" y1="1149.80" x2="1441.70" y2="1149.80" stroke="#222" stroke-width="0.9"/><line x1="1453.90" y1="1149.80" x2="1458.40" y2="1149.80" stroke="#222" stroke-width="0.9"/><line x1="1437.20" y1="1166.20" x2="1441.70" y2="1166.20" stroke="#222" stroke-width="0.9"/><line x1="1453.90" y1="1166.20" x2="1458.40" y2="1166.20" stroke="#222" stroke-width="0.9"/><line x1="1437.20" y1="1182.60" x2="1441.70" y2="1182.60" stroke="#222" stroke-width="0.9"/><line x1="1453.90" y1="1182.60" x2="1458.40" y2="1182.60" stroke="#222" stroke-width="0.9"/><line x1="1437.20" y1="1199.00" x2="1441.70" y2="1199.00" stroke="#222" stroke-width="0.9"/><line x1="1453.90" y1="1199.00" x2="1458.40" y2="1199.00" stroke="#222" stroke-width="0.9"/><line x1="1437.20" y1="1215.40" x2="1441.70" y2="1215.40" stroke="#222" stroke-width="0.9"/><line x1="1453.90" y1="1215.40" x2="1458.40" y2="1215.40" stroke="#222" stroke-width="0.9"/><line x1="1437.20" y1="1231.80" x2="1441.70" y2="1231.80" stroke="#222" stroke-width="0.9"/><line x1="1453.90" y1="1231.80" x2="1458.40" y2="1231.80" stroke="#222" stroke-width="0.9"/><line x1="1437.20" y1="1248.20" x2="1441.70" y2="1248.20" stroke="#222" stroke-width="0.9"/><line x1="1453.90" y1="1248.20" x2="1458.40" y2="1248.20" stroke="#222" stroke-width="0.9"/><line x1="1437.20" y1="1264.60" x2="1441.70" y2="1264.60" stroke="#222" stroke-width="0.9"/><line x1="1453.90" y1="1264.60" x2="1458.40" y2="1264.60" stroke="#222" stroke-width="0.9"/><line x1="1437.20" y1="1281.00" x2="1441.70" y2="1281.00" stroke="#222" stroke-width="0.9"/><line x1="1453.90" y1="1281.00" x2="1458.40" y2="1281.00" stroke="#222" stroke-width="0.9"/>
<text transform="translate(1402.00,844.00) scale(1,1.0300)" font-size="28">1*10<tspan font-size="16.50" dy="-10.50">7</tspan></text>
<text transform="translate(1476.00,844.00) scale(1.0000,1.0300)" font-size="28">Pa</text>
<text transform="translate(1402.00,1123.60) scale(1,1.0300)" font-size="28">1*10<tspan font-size="16.50" dy="-10.50">7</tspan></text>
<text transform="translate(1476.00,1123.60) scale(1.0000,1.0300)" font-size="28">Pa</text>
<text transform="translate(1436.00,1047.00) scale(1.0000,1.0300)" font-size="28">0</text>
<text transform="translate(1436.00,1326.80) scale(1.0000,1.0300)" font-size="28">0</text>
</svg>
</body></html>
